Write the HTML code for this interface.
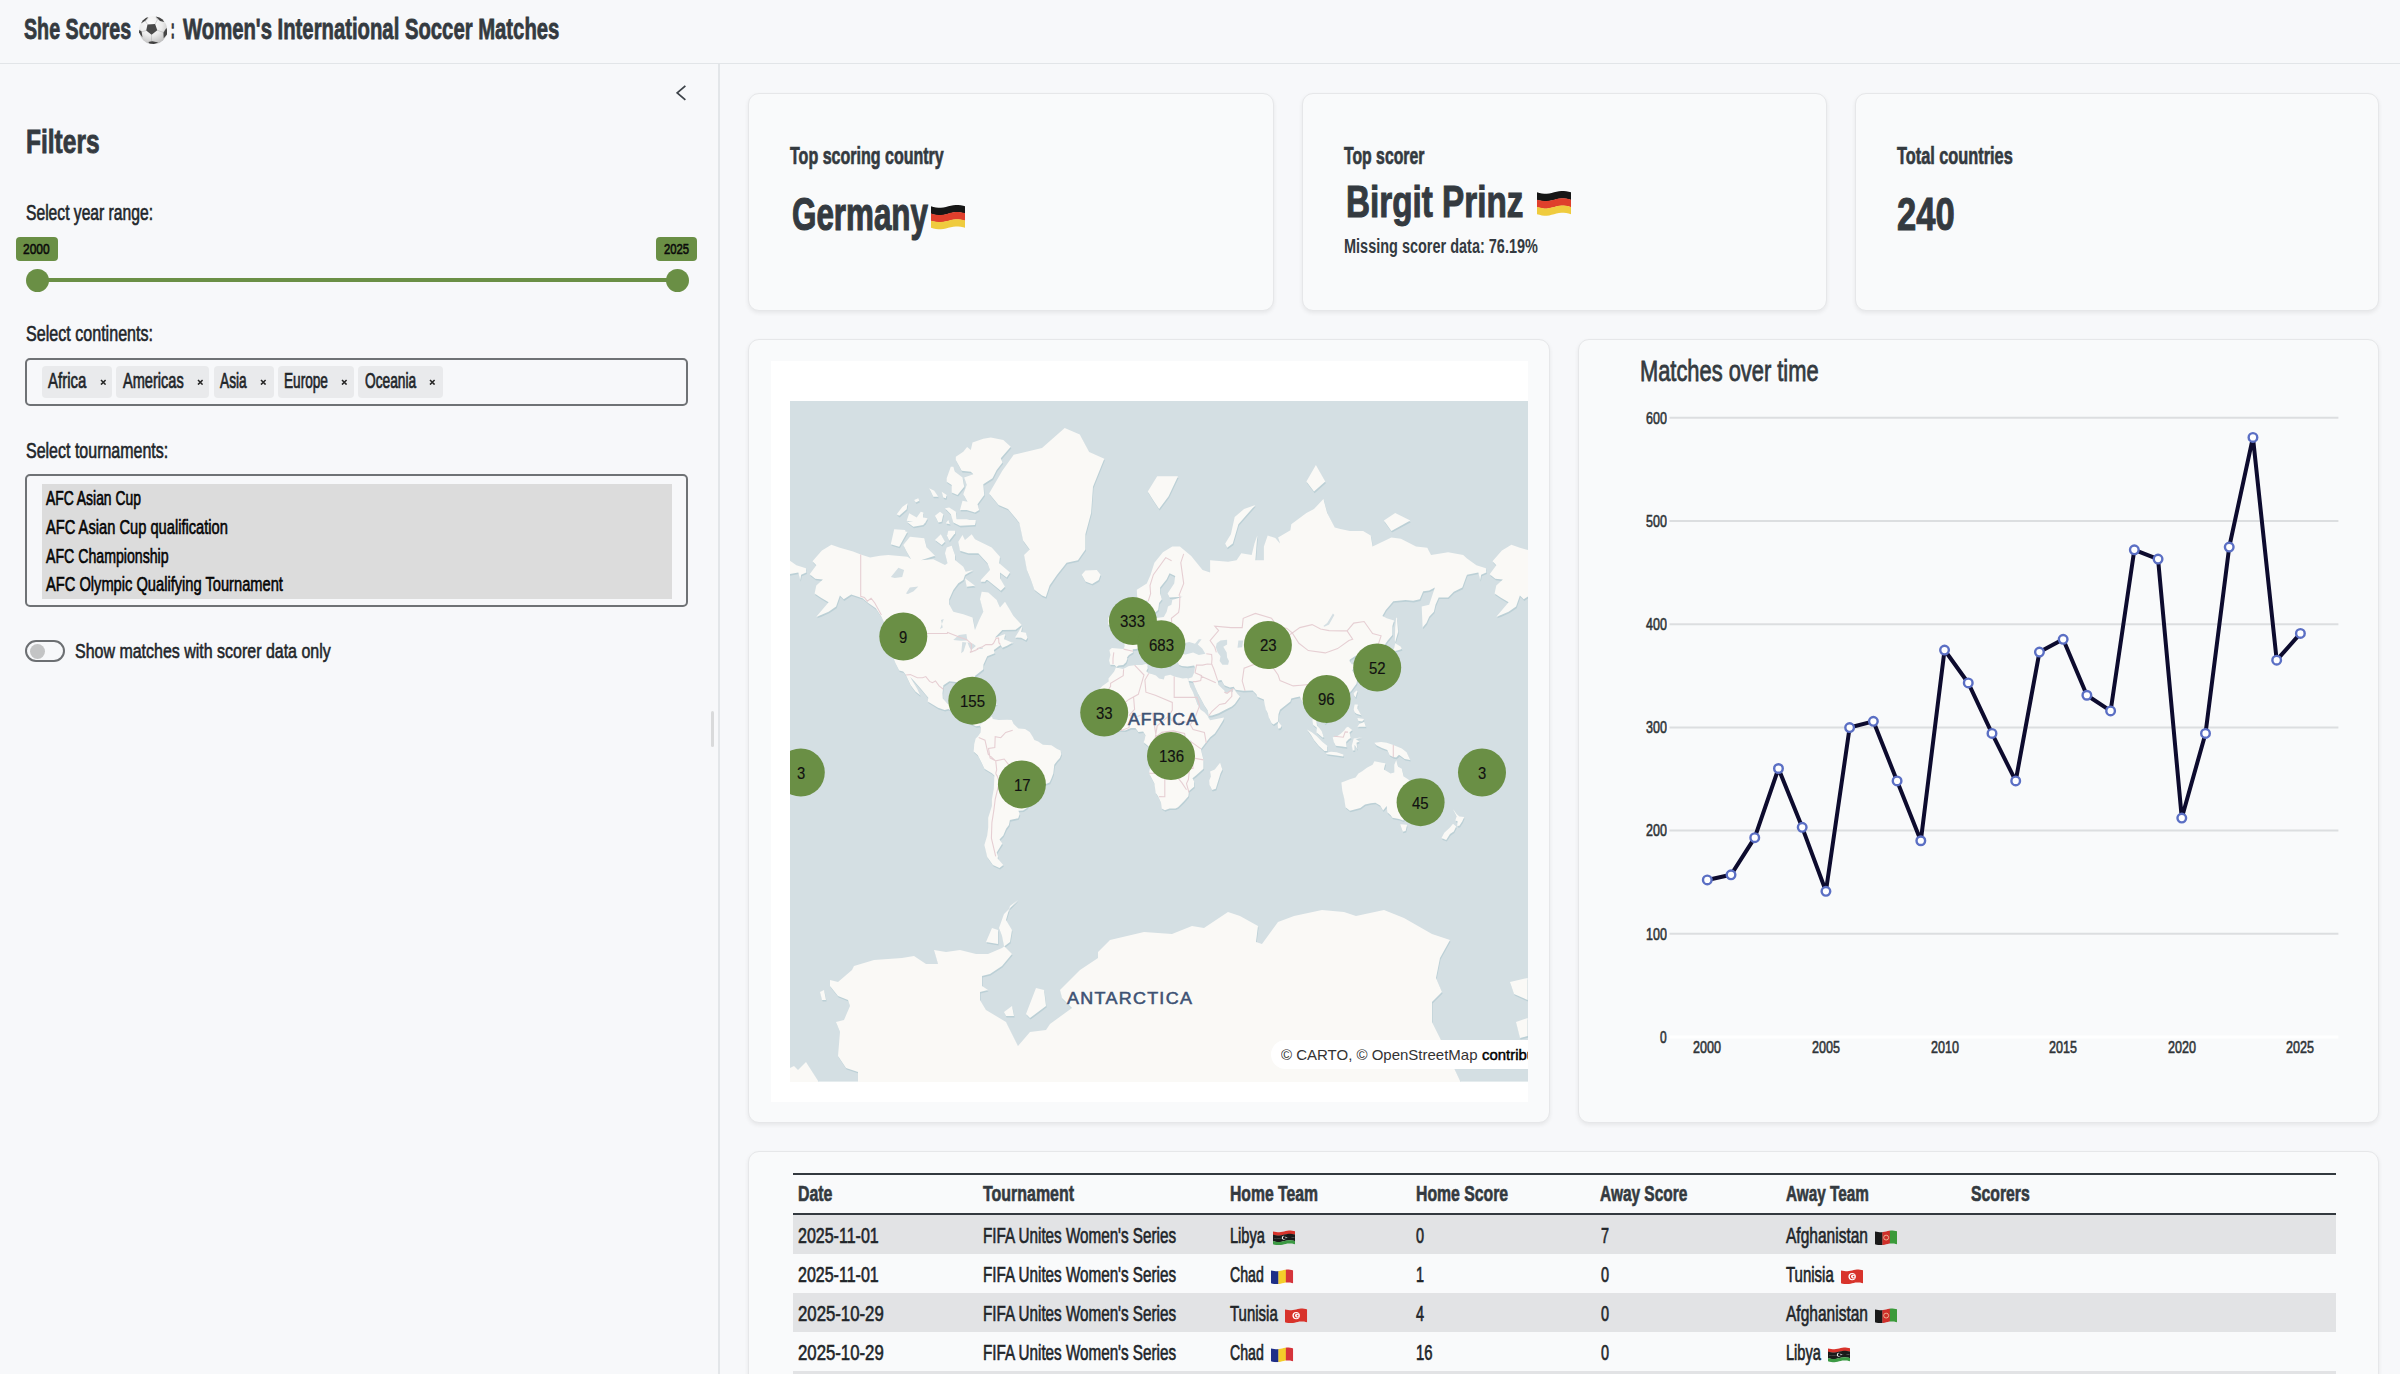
<!DOCTYPE html>
<html><head><meta charset="utf-8"><title>She Scores</title>
<style>
html,body{margin:0;padding:0}
body{width:2400px;height:1374px;overflow:hidden;position:relative;background:#f7f8fa;font-family:"Liberation Sans",sans-serif}
.t{position:absolute;white-space:nowrap;line-height:1;transform-origin:0 0}
svg{overflow:hidden}
</style></head><body>
<div style="position:absolute;left:0.00px;top:62.50px;width:2400.00px;height:1.50px;background:#e2e5e8"></div>
<div class="t " style="left:24.08px;top:14.55px;font-size:28.63px;font-weight:bold;color:#343a40;transform:scaleX(0.6871);-webkit-text-stroke:0.80px #343a40;">She Scores</div>
<svg style="position:absolute;left:138.70px;top:15.80px;width:28.40px;height:28.40px;" viewBox="0 0 100 100" preserveAspectRatio="none"><defs><radialGradient id="bg1" cx="42%" cy="30%" r="72%"><stop offset="0" stop-color="#ffffff"/><stop offset="0.55" stop-color="#ececec"/><stop offset="1" stop-color="#bdbdbd"/></radialGradient></defs><circle cx="50" cy="50" r="49.5" fill="url(#bg1)"/><g stroke="#a9a9a9" stroke-width="1.6" fill="none"><path d="M29.9,29.6 L22,17 M56.7,28.6 L65,13 M64.4,50 L86,58 M44.3,66.3 L44,90 M25.3,51 L9,56"/><path d="M22,17 L33,8 M65,13 L60,4 M86,58 L96,44 M44,90 L35,93 M9,56 L4,48"/></g><path d="M29.9,29.6 L56.7,28.6 L64.4,50 L44.3,66.3 L25.3,51 Z" fill="#4a4a4a"/><path d="M7,26 L14,15 L25,6.5 L33,4 L22,17 Z" fill="#454545"/><path d="M58.8,2 L72,5 L83,12 L89,21 L74,18 Z" fill="#454545"/><path d="M96.5,42 L100,51 L98,66 L87,78 L86,59 Z" fill="#454545"/><path d="M0.5,49 L9,55 L12.4,76 L5,66 L0,57 Z" fill="#454545"/><path d="M33,92 L47,88.5 L68,93 L52,98.5 L37,97 Z" fill="#3f3f3f"/></svg>
<div class="t " style="left:171.10px;top:15.11px;font-size:27.51px;font-weight:bold;color:#343a40;transform:scaleX(0.3820);-webkit-text-stroke:1.57px #343a40;">:</div>
<div class="t " style="left:183.28px;top:14.53px;font-size:28.66px;font-weight:bold;color:#343a40;transform:scaleX(0.7077);-webkit-text-stroke:0.78px #343a40;">Women&#x27;s International Soccer Matches</div>
<div style="position:absolute;left:718.20px;top:64.00px;width:1.60px;height:1310.00px;background:#e3e6e9"></div>
<div style="position:absolute;left:711.00px;top:710.60px;width:2.60px;height:36.40px;background:#d9dadb;border-radius:2px"></div>
<svg style="position:absolute;left:675.80px;top:85.40px;width:10.20px;height:15.70px;" viewBox="0 0 10 16" preserveAspectRatio="none"><polyline points="9.2,0.8 1.2,8 9.2,15.2" fill="none" stroke="#3d4349" stroke-width="1.7"/></svg>
<div class="t " style="left:26.11px;top:124.83px;font-size:33.63px;font-weight:bold;color:#343a40;transform:scaleX(0.7290);-webkit-text-stroke:0.86px #343a40;">Filters</div>
<div class="t " style="left:25.62px;top:201.57px;font-size:22.32px;font-weight:normal;color:#212529;transform:scaleX(0.7013);-webkit-text-stroke:0.64px #212529;">Select year range:</div>
<div style="position:absolute;left:37.00px;top:278.30px;width:640.00px;height:4.00px;background:#6a8f45"></div>
<div style="position:absolute;left:25.50px;top:268.80px;width:23px;height:23px;border-radius:50%;background:#6a8f45"></div>
<div style="position:absolute;left:665.50px;top:268.80px;width:23px;height:23px;border-radius:50%;background:#6a8f45"></div>
<div style="position:absolute;left:16.00px;top:236.90px;width:41.90px;height:24.35px;background:#6a8f45;border-radius:4px"></div>
<div style="position:absolute;left:656.00px;top:236.90px;width:41.00px;height:24.30px;background:#6a8f45;border-radius:4px"></div>
<div class="t " style="left:23.43px;top:240.88px;font-size:15.16px;font-weight:normal;color:#0b0b0b;transform:scaleX(0.7887);-webkit-text-stroke:0.57px #0b0b0b;">2000</div>
<div class="t " style="left:663.93px;top:240.90px;font-size:15.11px;font-weight:normal;color:#0b0b0b;transform:scaleX(0.7479);-webkit-text-stroke:0.60px #0b0b0b;">2025</div>
<div class="t " style="left:25.73px;top:323.26px;font-size:22.35px;font-weight:normal;color:#212529;transform:scaleX(0.7202);-webkit-text-stroke:0.62px #212529;">Select continents:</div>
<div style="position:absolute;left:25.20px;top:358.20px;width:663.30px;height:47.40px;border:2px solid #6f7275;border-radius:5px;box-sizing:border-box"></div>
<div style="position:absolute;left:41.50px;top:366.20px;width:70.50px;height:31.40px;background:#e9eaec;border-radius:4px"></div>
<div class="t " style="left:48.23px;top:369.83px;font-size:22.01px;font-weight:normal;color:#212529;transform:scaleX(0.6816);-webkit-text-stroke:0.66px #212529;">Africa</div>
<svg style="position:absolute;left:99.70px;top:378.90px;width:6.60px;height:6.60px;" viewBox="0 0 6.60 6.60" preserveAspectRatio="none"><path d="M1,1 L5.60,5.60 M5.60,1 L1,5.60" stroke="#262626" stroke-width="1.55" stroke-linecap="butt"/></svg>
<div style="position:absolute;left:116.20px;top:366.20px;width:93.30px;height:31.40px;background:#e9eaec;border-radius:4px"></div>
<div class="t " style="left:123.02px;top:369.84px;font-size:21.98px;font-weight:normal;color:#212529;transform:scaleX(0.6632);-webkit-text-stroke:0.68px #212529;">Americas</div>
<svg style="position:absolute;left:196.70px;top:378.90px;width:6.60px;height:6.60px;" viewBox="0 0 6.60 6.60" preserveAspectRatio="none"><path d="M1,1 L5.60,5.60 M5.60,1 L1,5.60" stroke="#262626" stroke-width="1.55" stroke-linecap="butt"/></svg>
<div style="position:absolute;left:213.90px;top:366.20px;width:59.80px;height:31.40px;background:#e9eaec;border-radius:4px"></div>
<div class="t " style="left:220.22px;top:369.88px;font-size:21.92px;font-weight:normal;color:#212529;transform:scaleX(0.6248);-webkit-text-stroke:0.72px #212529;">Asia</div>
<svg style="position:absolute;left:260.30px;top:378.90px;width:6.60px;height:6.60px;" viewBox="0 0 6.60 6.60" preserveAspectRatio="none"><path d="M1,1 L5.60,5.60 M5.60,1 L1,5.60" stroke="#262626" stroke-width="1.55" stroke-linecap="butt"/></svg>
<div style="position:absolute;left:277.80px;top:366.20px;width:76.00px;height:31.40px;background:#e9eaec;border-radius:4px"></div>
<div class="t " style="left:284.23px;top:369.88px;font-size:21.91px;font-weight:normal;color:#212529;transform:scaleX(0.6219);-webkit-text-stroke:0.72px #212529;">Europe</div>
<svg style="position:absolute;left:341.30px;top:378.90px;width:6.60px;height:6.60px;" viewBox="0 0 6.60 6.60" preserveAspectRatio="none"><path d="M1,1 L5.60,5.60 M5.60,1 L1,5.60" stroke="#262626" stroke-width="1.55" stroke-linecap="butt"/></svg>
<div style="position:absolute;left:358.20px;top:366.20px;width:84.50px;height:31.40px;background:#e9eaec;border-radius:4px"></div>
<div class="t " style="left:364.93px;top:369.87px;font-size:21.92px;font-weight:normal;color:#212529;transform:scaleX(0.6276);-webkit-text-stroke:0.72px #212529;">Oceania</div>
<svg style="position:absolute;left:429.30px;top:378.90px;width:6.60px;height:6.60px;" viewBox="0 0 6.60 6.60" preserveAspectRatio="none"><path d="M1,1 L5.60,5.60 M5.60,1 L1,5.60" stroke="#262626" stroke-width="1.55" stroke-linecap="butt"/></svg>
<div class="t " style="left:25.73px;top:439.76px;font-size:22.34px;font-weight:normal;color:#212529;transform:scaleX(0.7163);-webkit-text-stroke:0.63px #212529;">Select tournaments:</div>
<div style="position:absolute;left:25.20px;top:474.30px;width:663.30px;height:132.30px;border:2px solid #6f7275;border-radius:5px;box-sizing:border-box"></div>
<div style="position:absolute;left:42.10px;top:483.90px;width:630.40px;height:115.50px;background:#dcdcdc"></div>
<div class="t " style="left:45.62px;top:487.77px;font-size:20.54px;font-weight:normal;color:#050505;transform:scaleX(0.6761);-webkit-text-stroke:0.67px #050505;">AFC Asian Cup</div>
<div class="t " style="left:45.62px;top:516.84px;font-size:20.59px;font-weight:normal;color:#050505;transform:scaleX(0.7131);-webkit-text-stroke:0.63px #050505;">AFC Asian Cup qualification</div>
<div class="t " style="left:45.62px;top:545.66px;font-size:20.56px;font-weight:normal;color:#050505;transform:scaleX(0.6880);-webkit-text-stroke:0.65px #050505;">AFC Championship</div>
<div class="t " style="left:45.62px;top:574.44px;font-size:20.59px;font-weight:normal;color:#050505;transform:scaleX(0.7126);-webkit-text-stroke:0.63px #050505;">AFC Olympic Qualifying Tournament</div>
<div style="position:absolute;left:25.30px;top:640.10px;width:39.50px;height:22.30px;border:2px solid #6c6f72;border-radius:12px;box-sizing:border-box"></div>
<div style="position:absolute;left:29.50px;top:643.70px;width:15px;height:15px;border-radius:50%;background:#c3c4c5"></div>
<div class="t " style="left:75.32px;top:640.66px;font-size:20.95px;font-weight:normal;color:#212529;transform:scaleX(0.7631);-webkit-text-stroke:0.59px #212529;">Show matches with scorer data only</div>
<div style="position:absolute;left:748.00px;top:93.00px;width:525.50px;height:218.00px;background:#f9fafb;border:1.5px solid #e6e7e9;border-radius:11px;box-sizing:border-box;box-shadow:0 2px 4px rgba(0,0,0,0.07)"></div>
<div style="position:absolute;left:1302.00px;top:93.00px;width:525.00px;height:218.00px;background:#f9fafb;border:1.5px solid #e6e7e9;border-radius:11px;box-sizing:border-box;box-shadow:0 2px 4px rgba(0,0,0,0.07)"></div>
<div style="position:absolute;left:1855.00px;top:93.00px;width:524.00px;height:218.00px;background:#f9fafb;border:1.5px solid #e6e7e9;border-radius:11px;box-sizing:border-box;box-shadow:0 2px 4px rgba(0,0,0,0.07)"></div>
<div class="t " style="left:790.33px;top:144.82px;font-size:23.42px;font-weight:bold;color:#343a40;transform:scaleX(0.6847);-webkit-text-stroke:0.69px #343a40;">Top scoring country</div>
<div class="t " style="left:791.71px;top:192.34px;font-size:45.65px;font-weight:bold;color:#343a40;transform:scaleX(0.6871);-webkit-text-stroke:1.19px #343a40;">Germany</div>
<svg style="position:absolute;left:930.80px;top:203.60px;width:34.70px;height:26.40px;" viewBox="0 0 36 26" preserveAspectRatio="none"><polygon points="0.00,2.30 2.57,2.93 5.14,3.43 7.71,3.71 10.29,3.71 12.86,3.43 15.43,2.93 18.00,2.30 20.57,1.67 23.14,1.17 25.71,0.89 28.29,0.89 30.86,1.17 33.43,1.67 36.00,2.30 36.00,9.62 33.43,8.99 30.86,8.48 28.29,8.20 25.71,8.20 23.14,8.48 20.57,8.99 18.00,9.62 15.43,10.25 12.86,10.75 10.29,11.03 7.71,11.03 5.14,10.75 2.57,10.25 0.00,9.62" fill="#161616"/><polygon points="0.00,9.37 2.57,10.00 5.14,10.50 7.71,10.78 10.29,10.78 12.86,10.50 15.43,10.00 18.00,9.37 20.57,8.74 23.14,8.23 25.71,7.95 28.29,7.95 30.86,8.23 33.43,8.74 36.00,9.37 36.00,16.68 33.43,16.05 30.86,15.55 28.29,15.27 25.71,15.27 23.14,15.55 20.57,16.05 18.00,16.68 15.43,17.31 12.86,17.82 10.29,18.10 7.71,18.10 5.14,17.82 2.57,17.31 0.00,16.68" fill="#df3f2c"/><polygon points="0.00,16.43 2.57,17.06 5.14,17.57 7.71,17.85 10.29,17.85 12.86,17.57 15.43,17.06 18.00,16.43 20.57,15.80 23.14,15.30 25.71,15.02 28.29,15.02 30.86,15.30 33.43,15.80 36.00,16.43 36.00,23.50 33.43,22.87 30.86,22.37 28.29,22.09 25.71,22.09 23.14,22.37 20.57,22.87 18.00,23.50 15.43,24.13 12.86,24.63 10.29,24.91 7.71,24.91 5.14,24.63 2.57,24.13 0.00,23.50" fill="#efcb3e"/></svg>
<div class="t " style="left:1343.73px;top:144.53px;font-size:23.41px;font-weight:bold;color:#343a40;transform:scaleX(0.6738);-webkit-text-stroke:0.70px #343a40;">Top scorer</div>
<div class="t " style="left:1345.60px;top:179.70px;font-size:44.93px;font-weight:bold;color:#343a40;transform:scaleX(0.7402);-webkit-text-stroke:1.09px #343a40;">Birgit Prinz</div>
<svg style="position:absolute;left:1536.90px;top:190.00px;width:34.10px;height:26.80px;" viewBox="0 0 36 26" preserveAspectRatio="none"><polygon points="0.00,2.30 2.57,2.93 5.14,3.43 7.71,3.71 10.29,3.71 12.86,3.43 15.43,2.93 18.00,2.30 20.57,1.67 23.14,1.17 25.71,0.89 28.29,0.89 30.86,1.17 33.43,1.67 36.00,2.30 36.00,9.62 33.43,8.99 30.86,8.48 28.29,8.20 25.71,8.20 23.14,8.48 20.57,8.99 18.00,9.62 15.43,10.25 12.86,10.75 10.29,11.03 7.71,11.03 5.14,10.75 2.57,10.25 0.00,9.62" fill="#161616"/><polygon points="0.00,9.37 2.57,10.00 5.14,10.50 7.71,10.78 10.29,10.78 12.86,10.50 15.43,10.00 18.00,9.37 20.57,8.74 23.14,8.23 25.71,7.95 28.29,7.95 30.86,8.23 33.43,8.74 36.00,9.37 36.00,16.68 33.43,16.05 30.86,15.55 28.29,15.27 25.71,15.27 23.14,15.55 20.57,16.05 18.00,16.68 15.43,17.31 12.86,17.82 10.29,18.10 7.71,18.10 5.14,17.82 2.57,17.31 0.00,16.68" fill="#df3f2c"/><polygon points="0.00,16.43 2.57,17.06 5.14,17.57 7.71,17.85 10.29,17.85 12.86,17.57 15.43,17.06 18.00,16.43 20.57,15.80 23.14,15.30 25.71,15.02 28.29,15.02 30.86,15.30 33.43,15.80 36.00,16.43 36.00,23.50 33.43,22.87 30.86,22.37 28.29,22.09 25.71,22.09 23.14,22.37 20.57,22.87 18.00,23.50 15.43,24.13 12.86,24.63 10.29,24.91 7.71,24.91 5.14,24.63 2.57,24.13 0.00,23.50" fill="#efcb3e"/></svg>
<div class="t " style="left:1344.30px;top:236.67px;font-size:19.55px;font-weight:bold;color:#343a40;transform:scaleX(0.7412);-webkit-text-stroke:0.55px #343a40;-webkit-text-stroke:0px">Missing scorer data: 76.19%</div>
<div class="t " style="left:1896.83px;top:144.71px;font-size:23.44px;font-weight:bold;color:#343a40;transform:scaleX(0.6961);-webkit-text-stroke:0.67px #343a40;">Total countries</div>
<div class="t " style="left:1897.41px;top:192.36px;font-size:45.81px;font-weight:bold;color:#343a40;transform:scaleX(0.7549);-webkit-text-stroke:1.08px #343a40;">240</div>
<div style="position:absolute;left:748.00px;top:338.80px;width:801.80px;height:784.20px;background:#f9fafb;border:1.5px solid #e6e7e9;border-radius:11px;box-sizing:border-box;box-shadow:0 2px 4px rgba(0,0,0,0.07)"></div>
<div style="position:absolute;left:770.80px;top:360.80px;width:757.20px;height:740.80px;background:#ffffff"></div>
<svg style="position:absolute;left:790.00px;top:401.00px;width:738.00px;height:680.60px" viewBox="790.00 401.00 738.00 680.60"><rect x="790.00" y="401.00" width="738.00" height="680.60" fill="#d4dfe3"/><path d="M809.7,574.3 816.3,565.2 812.5,561.2 821.9,550.5 831.4,544.8 839.9,547.7 853.1,551.6 860.7,554.4 870.1,557.6 880.0,555.8 888.3,555.0 907.5,556.7 913.3,560.8 933.3,559.2 945.0,565.0 947.5,563.3 945.0,553.3 946.7,547.5 951.7,545.8 955.0,555.0 955.0,560.0 963.3,566.7 965.8,571.7 973.3,570.0 965.0,575.0 963.3,580.0 958.3,583.3 953.3,590.0 949.2,599.2 949.2,604.2 953.3,611.7 963.3,614.2 972.5,617.5 975.0,630.0 979.2,620.0 983.3,611.7 980.0,599.2 981.7,591.7 988.3,592.5 996.7,600.0 1000.0,607.5 1005.0,601.7 1010.0,610.0 1013.3,615.8 1021.7,625.0 1015.6,629.7 1002.3,630.0 994.8,637.8 1005.2,634.1 1004.2,639.2 1011.8,642.5 1013.7,641.9 1007.1,645.7 1002.3,647.8 1000.6,645.1 993.8,649.9 994.8,653.2 987.2,656.2 983.4,664.7 983.4,669.3 974.9,676.1 974.0,681.6 975.9,688.1 974.9,690.8 972.1,688.1 970.6,684.9 968.3,680.6 960.8,679.9 957.9,682.3 949.4,681.2 943.4,685.3 942.5,693.3 942.8,698.4 947.6,704.0 954.2,704.4 956.1,699.4 962.7,698.4 960.8,705.0 959.8,709.4 968.3,709.8 969.7,711.7 968.9,719.1 972.5,722.9 976.8,722.0 980.6,723.9 979.7,725.8 975.9,726.2 972.1,724.5 965.1,721.0 961.7,715.2 954.2,713.3 948.5,709.0 944.7,710.0 938.1,707.8 927.7,701.4 928.3,697.8 925.8,694.7 920.2,688.1 914.5,681.6 910.2,677.0 913.6,682.7 917.3,689.1 920.2,695.3 915.4,691.6 910.7,685.3 906.9,677.3 905.6,674.6 903.2,671.4 899.2,670.5 895.6,663.5 892.8,656.7 891.8,649.9 892.8,641.4 891.5,635.2 894.7,633.5 887.1,629.1 881.4,616.7 875.8,608.3 868.2,603.0 862.6,598.2 851.2,594.4 843.7,599.3 839.9,595.6 836.1,606.6 828.6,611.7 821.0,615.1 816.3,616.7 828.6,602.3 821.0,597.8 814.6,593.6 816.3,585.6 822.9,579.6 815.3,578.7ZM1489.7,574.3 1496.3,565.2 1492.5,561.2 1501.9,550.5 1511.4,544.8 1519.9,547.7 1533.1,551.6 1540.7,554.4 1550.1,557.6 1560.0,555.8 1568.3,555.0 1587.5,556.7 1593.3,560.8 1613.3,559.2 1625.0,565.0 1627.5,563.3 1625.0,553.3 1626.7,547.5 1631.7,545.8 1635.0,555.0 1635.0,560.0 1643.3,566.7 1645.8,571.7 1653.3,570.0 1645.0,575.0 1643.3,580.0 1638.3,583.3 1633.3,590.0 1629.2,599.2 1629.2,604.2 1633.3,611.7 1643.3,614.2 1652.5,617.5 1655.0,630.0 1659.2,620.0 1663.3,611.7 1660.0,599.2 1661.7,591.7 1668.3,592.5 1676.7,600.0 1680.0,607.5 1685.0,601.7 1690.0,610.0 1693.3,615.8 1701.7,625.0 1695.6,629.7 1682.3,630.0 1674.8,637.8 1685.2,634.1 1684.2,639.2 1691.8,642.5 1693.7,641.9 1687.1,645.7 1682.3,647.8 1680.6,645.1 1673.8,649.9 1674.8,653.2 1667.2,656.2 1663.4,664.7 1663.4,669.3 1654.9,676.1 1654.0,681.6 1655.9,688.1 1654.9,690.8 1652.1,688.1 1650.6,684.9 1648.3,680.6 1640.8,679.9 1637.9,682.3 1629.4,681.2 1623.4,685.3 1622.5,693.3 1622.8,698.4 1627.6,704.0 1634.2,704.4 1636.1,699.4 1642.7,698.4 1640.8,705.0 1639.8,709.4 1648.3,709.8 1649.7,711.7 1648.9,719.1 1652.5,722.9 1656.8,722.0 1660.6,723.9 1659.7,725.8 1655.9,726.2 1652.1,724.5 1645.1,721.0 1641.7,715.2 1634.2,713.3 1628.5,709.0 1624.7,710.0 1618.1,707.8 1607.7,701.4 1608.3,697.8 1605.8,694.7 1600.2,688.1 1594.5,681.6 1590.2,677.0 1593.6,682.7 1597.3,689.1 1600.2,695.3 1595.4,691.6 1590.7,685.3 1586.9,677.3 1585.6,674.6 1583.2,671.4 1579.2,670.5 1575.6,663.5 1572.8,656.7 1571.8,649.9 1572.8,641.4 1571.5,635.2 1574.7,633.5 1567.1,629.1 1561.4,616.7 1555.8,608.3 1548.2,603.0 1542.6,598.2 1531.2,594.4 1523.7,599.3 1519.9,595.6 1516.1,606.6 1508.6,611.7 1501.0,615.1 1496.3,616.7 1508.6,602.3 1501.0,597.8 1494.6,593.6 1496.3,585.6 1502.9,579.6 1495.3,578.7ZM989.1,493.4 1002.3,470.8 1013.7,454.8 1042.0,447.9 1064.7,427.9 1079.8,434.4 1089.2,452.1 1104.3,458.7 1093.0,486.7 1091.1,513.0 1085.4,534.3 1085.4,549.4 1077.9,560.2 1066.6,562.7 1057.1,574.7 1049.6,585.6 1045.8,597.1 1042.0,595.6 1034.4,589.7 1030.7,579.2 1026.9,570.1 1024.1,554.9 1029.7,549.4 1023.1,540.6 1019.3,522.7 1008.0,509.0 998.6,504.9ZM1015.0,637.5 1022.2,625.8 1021.2,632.1 1025.9,632.7 1027.5,637.8 1025.9,640.3 1021.2,637.8ZM966.4,697.8 972.1,694.9 979.7,696.4 986.8,701.0 980.2,701.6 974.9,698.4ZM986.3,704.4 990.1,701.6 997.6,704.2 992.9,705.4 986.5,705.2ZM981.0,723.7 983.4,722.0 984.4,719.5 989.1,718.5 991.9,716.4 992.9,719.1 998.6,720.1 1007.1,719.7 1011.8,720.1 1013.7,723.9 1018.4,728.6 1025.0,729.0 1029.7,732.1 1032.6,736.6 1034.4,740.0 1038.2,741.5 1042.9,744.7 1051.4,745.3 1057.1,749.1 1060.5,750.4 1061.3,754.2 1059.9,758.0 1057.1,760.9 1054.3,764.8 1053.3,773.6 1051.4,778.6 1049.6,782.6 1043.9,784.7 1036.3,790.9 1035.4,796.2 1031.6,801.6 1026.9,807.9 1023.1,810.4 1018.4,810.7 1019.7,814.1 1018.2,818.2 1009.9,820.1 1008.9,825.1 1006.1,828.8 1003.3,835.4 999.5,839.4 1002.3,843.6 996.7,852.4 998.0,856.3 997.6,858.5 1003.3,864.9 999.5,867.9 992.9,864.9 987.2,856.9 984.4,845.0 987.2,835.4 988.2,827.6 988.2,817.7 991.9,806.1 991.9,799.4 993.8,788.8 994.4,775.6 991.9,773.2 984.4,768.7 981.6,762.8 977.8,755.2 973.6,751.4 974.0,748.1 974.2,744.2 975.7,738.5 977.8,736.6 980.6,732.4 981.0,727.7 980.0,725.8ZM1094.7,711.9 1095.3,716.2 1098.7,719.1 1101.9,722.9 1106.2,726.9 1112.8,731.7 1119.4,730.2 1125.1,730.5 1130.8,728.1 1135.5,728.1 1138.3,731.9 1143.1,731.5 1145.5,735.3 1144.6,740.0 1143.6,742.3 1148.7,746.6 1149.7,749.5 1150.2,752.3 1151.9,757.1 1153.1,760.9 1150.6,765.7 1149.3,771.6 1149.7,774.6 1154.4,783.6 1155.7,793.0 1158.2,796.4 1161.0,802.7 1161.8,808.4 1164.8,810.2 1169.5,808.4 1175.4,808.4 1178.0,807.2 1183.7,801.6 1188.4,796.2 1189.0,790.9 1194.1,786.7 1194.1,781.6 1192.5,778.2 1195.9,775.6 1203.5,768.7 1203.5,759.9 1201.6,752.3 1201.0,748.9 1205.4,743.2 1210.1,737.2 1214.8,733.4 1218.6,727.7 1223.3,720.1 1223.9,717.6 1217.7,718.7 1210.1,720.2 1208.6,718.1 1207.7,716.0 1204.4,712.3 1200.7,709.8 1197.5,704.4 1195.0,697.4 1193.1,692.2 1190.3,687.0 1188.4,680.8 1187.4,677.9 1182.7,678.6 1174.2,676.6 1170.4,674.8 1164.8,675.9 1163.8,679.5 1159.1,678.4 1155.9,675.5 1151.6,674.1 1148.7,673.5 1146.3,671.2 1147.8,668.2 1147.4,664.4 1145.5,664.0 1142.1,664.9 1136.4,665.1 1128.9,665.9 1123.2,669.1 1115.9,667.5 1114.2,671.6 1108.5,678.4 1108.7,681.6 1102.4,685.9 1099.6,689.1 1095.8,694.3 1094.9,699.4 1096.8,703.4 1095.8,708.4ZM1220.1,762.8 1222.4,769.6 1220.5,773.6 1217.7,782.6 1215.8,788.8 1212.0,790.0 1209.5,784.7 1209.2,780.6 1210.9,776.6 1210.1,771.6 1214.8,769.6 1217.7,765.7ZM508.4,680.8 512.9,681.6 515.0,687.0 517.8,693.3 520.7,698.4 524.4,705.4 527.7,710.4 528.8,715.8 532.0,715.6 538.6,713.3 545.2,709.8 551.8,706.4 554.7,704.0 560.0,696.4 557.5,694.1 553.5,688.5 552.8,692.2 550.9,691.2 545.2,693.3 544.3,690.6 542.4,688.7 538.6,684.9 537.7,680.8 541.4,680.1 544.3,685.3 549.9,687.4 553.7,686.8 555.6,689.7 563.2,690.8 572.6,690.4 576.4,694.3 577.3,696.8 583.9,699.4 584.5,703.4 585.8,709.4 587.7,713.3 588.7,717.2 591.5,722.9 593.4,724.6 598.1,721.4 598.5,714.3 600.0,709.8 602.8,707.4 610.4,701.4 611.3,698.4 615.1,697.4 619.8,696.4 621.3,700.0 625.5,706.4 625.1,709.4 631.2,708.4 633.1,714.3 632.5,721.0 633.1,724.8 636.8,727.7 636.5,732.4 642.5,737.5 643.8,737.2 641.9,731.5 639.7,728.5 637.0,725.8 635.9,716.2 636.8,714.3 639.7,716.2 641.6,719.1 645.0,723.7 648.2,720.4 652.9,718.1 653.5,714.3 651.9,710.4 648.2,705.8 646.8,703.4 648.2,700.4 651.0,698.4 654.8,699.4 655.2,701.0 656.7,698.4 661.4,697.0 667.1,695.3 671.8,690.2 673.7,687.4 676.5,683.8 677.4,678.8 675.2,675.0 672.2,670.5 674.6,666.6 678.4,664.7 671.8,664.2 669.5,661.1 669.9,659.4 676.5,655.2 675.9,659.9 678.4,656.2 682.2,657.9 684.1,662.8 685.9,670.7 691.2,668.9 691.6,664.7 688.8,660.9 692.2,654.9 693.7,651.4 698.2,650.4 702.9,647.5 707.7,640.6 712.4,635.0 712.4,626.1 714.1,620.6 706.7,618.3 702.4,616.1 705.8,610.0 713.3,601.2 725.6,600.1 733.2,600.8 739.8,599.3 743.2,591.3 749.2,590.5 754.9,587.6 749.2,604.8 741.7,606.6 742.6,627.6 746.4,623.1 749.2,616.7 753.9,611.7 755.5,604.8 758.7,597.5 768.1,597.5 773.8,591.7 782.3,587.6 786.1,577.0 787.0,574.7 798.3,572.4 800.2,580.1 801.2,574.7 806.3,572.4 805.9,568.2 796.4,565.2 787.0,558.6 783.2,554.9 768.1,552.2 751.1,554.9 747.3,547.7 736.0,546.5 720.9,538.7 711.4,537.5 692.6,546.5 690.7,535.6 683.1,531.0 669.9,531.0 660.4,529.0 654.8,527.6 647.2,513.0 643.4,498.9 634.0,509.0 626.4,513.0 611.3,524.2 610.4,530.3 598.1,537.5 600.0,543.6 595.3,538.1 587.7,535.6 583.9,546.5 583.9,560.2 575.4,560.2 577.3,535.6 574.5,543.6 571.7,554.9 561.3,553.3 556.6,560.2 548.1,561.7 530.1,560.2 530.1,572.4 522.6,570.1 511.2,556.0 499.9,546.5 492.3,546.5 482.9,552.2 474.4,562.7 470.6,574.7 466.8,583.5 456.8,589.7 457.4,601.2 460.2,604.8 462.5,604.5 466.8,600.5 469.7,604.8 471.2,613.4 474.0,613.4 478.2,610.0 479.1,603.0 481.9,599.3 480.1,593.6 480.1,587.6 486.7,579.2 489.5,573.3 495.2,576.1 494.2,583.5 487.6,593.6 489.5,597.5 502.7,596.7 492.3,600.1 491.4,604.8 488.0,606.6 486.7,611.7 483.8,617.0 474.4,618.3 467.8,618.3 467.4,611.7 466.8,605.9 462.5,608.3 463.1,615.1 463.6,618.7 460.2,619.9 456.1,621.5 453.6,626.1 449.8,627.6 444.2,631.5 437.9,635.2 443.2,639.2 444.7,645.9 443.6,649.1 431.9,648.0 429.4,649.9 430.4,654.9 429.1,660.6 430.2,664.7 434.7,664.9 436.4,667.0 438.5,665.4 443.2,665.1 446.1,662.3 447.4,658.7 447.0,657.4 448.9,654.9 453.0,652.4 452.7,649.3 456.1,649.1 461.2,647.8 463.6,646.2 466.5,648.6 468.7,651.7 473.1,654.9 476.8,657.4 477.2,662.3 479.5,659.9 479.1,656.2 481.9,656.9 477.2,653.7 473.4,650.9 470.2,645.7 472.5,642.7 473.4,645.1 479.1,649.9 483.8,652.9 483.6,656.7 486.7,661.1 487.6,665.1 490.4,665.9 492.3,662.3 490.1,656.2 492.3,655.7 497.1,655.4 496.5,657.4 497.1,659.9 498.9,664.7 501.8,665.9 507.4,666.6 514.1,665.6 515.0,667.5 514.1,672.8 512.2,677.3 508.4,678.4ZM1188.4,680.8 1192.9,681.6 1195.0,687.0 1197.8,693.3 1200.7,698.4 1204.4,705.4 1207.7,710.4 1208.8,715.8 1212.0,715.6 1218.6,713.3 1225.2,709.8 1231.8,706.4 1234.7,704.0 1240.0,696.4 1237.5,694.1 1233.5,688.5 1232.8,692.2 1230.9,691.2 1225.2,693.3 1224.3,690.6 1222.4,688.7 1218.6,684.9 1217.7,680.8 1221.4,680.1 1224.3,685.3 1229.9,687.4 1233.7,686.8 1235.6,689.7 1243.2,690.8 1252.6,690.4 1256.4,694.3 1257.3,696.8 1263.9,699.4 1264.5,703.4 1265.8,709.4 1267.7,713.3 1268.7,717.2 1271.5,722.9 1273.4,724.6 1278.1,721.4 1278.5,714.3 1280.0,709.8 1282.8,707.4 1290.4,701.4 1291.3,698.4 1295.1,697.4 1299.8,696.4 1301.3,700.0 1305.5,706.4 1305.1,709.4 1311.2,708.4 1313.1,714.3 1312.5,721.0 1313.1,724.8 1316.8,727.7 1316.5,732.4 1322.5,737.5 1323.8,737.2 1321.9,731.5 1319.7,728.5 1317.0,725.8 1315.9,716.2 1316.8,714.3 1319.7,716.2 1321.6,719.1 1325.0,723.7 1328.2,720.4 1332.9,718.1 1333.5,714.3 1331.9,710.4 1328.2,705.8 1326.8,703.4 1328.2,700.4 1331.0,698.4 1334.8,699.4 1335.2,701.0 1336.7,698.4 1341.4,697.0 1347.1,695.3 1351.8,690.2 1353.7,687.4 1356.5,683.8 1357.4,678.8 1355.2,675.0 1352.2,670.5 1354.6,666.6 1358.4,664.7 1351.8,664.2 1349.5,661.1 1349.9,659.4 1356.5,655.2 1355.9,659.9 1358.4,656.2 1362.2,657.9 1364.1,662.8 1365.9,670.7 1371.2,668.9 1371.6,664.7 1368.8,660.9 1372.2,654.9 1373.7,651.4 1378.2,650.4 1382.9,647.5 1387.7,640.6 1392.4,635.0 1392.4,626.1 1394.1,620.6 1386.7,618.3 1382.4,616.1 1385.8,610.0 1393.3,601.2 1405.6,600.1 1413.2,600.8 1419.8,599.3 1423.2,591.3 1429.2,590.5 1434.9,587.6 1429.2,604.8 1421.7,606.6 1422.6,627.6 1426.4,623.1 1429.2,616.7 1433.9,611.7 1435.5,604.8 1438.7,597.5 1448.1,597.5 1453.8,591.7 1462.3,587.6 1466.1,577.0 1467.0,574.7 1478.3,572.4 1480.2,580.1 1481.2,574.7 1486.3,572.4 1485.9,568.2 1476.4,565.2 1467.0,558.6 1463.2,554.9 1448.1,552.2 1431.1,554.9 1427.3,547.7 1416.0,546.5 1400.9,538.7 1391.4,537.5 1372.6,546.5 1370.7,535.6 1363.1,531.0 1349.9,531.0 1340.4,529.0 1334.8,527.6 1327.2,513.0 1323.4,498.9 1314.0,509.0 1306.4,513.0 1291.3,524.2 1290.4,530.3 1278.1,537.5 1280.0,543.6 1275.3,538.1 1267.7,535.6 1263.9,546.5 1263.9,560.2 1255.4,560.2 1257.3,535.6 1254.5,543.6 1251.7,554.9 1241.3,553.3 1236.6,560.2 1228.1,561.7 1210.1,560.2 1210.1,572.4 1202.6,570.1 1191.2,556.0 1179.9,546.5 1172.3,546.5 1162.9,552.2 1154.4,562.7 1150.6,574.7 1146.8,583.5 1136.8,589.7 1137.4,601.2 1140.2,604.8 1142.5,604.5 1146.8,600.5 1149.7,604.8 1151.2,613.4 1154.0,613.4 1158.2,610.0 1159.1,603.0 1161.9,599.3 1160.1,593.6 1160.1,587.6 1166.7,579.2 1169.5,573.3 1175.2,576.1 1174.2,583.5 1167.6,593.6 1169.5,597.5 1182.7,596.7 1172.3,600.1 1171.4,604.8 1168.0,606.6 1166.7,611.7 1163.8,617.0 1154.4,618.3 1147.8,618.3 1147.4,611.7 1146.8,605.9 1142.5,608.3 1143.1,615.1 1143.6,618.7 1140.2,619.9 1136.1,621.5 1133.6,626.1 1129.8,627.6 1124.2,631.5 1117.9,635.2 1123.2,639.2 1124.7,645.9 1123.6,649.1 1111.9,648.0 1109.4,649.9 1110.4,654.9 1109.1,660.6 1110.2,664.7 1114.7,664.9 1116.4,667.0 1118.5,665.4 1123.2,665.1 1126.1,662.3 1127.4,658.7 1127.0,657.4 1128.9,654.9 1133.0,652.4 1132.7,649.3 1136.1,649.1 1141.2,647.8 1143.6,646.2 1146.5,648.6 1148.7,651.7 1153.1,654.9 1156.8,657.4 1157.2,662.3 1159.5,659.9 1159.1,656.2 1161.9,656.9 1157.2,653.7 1153.4,650.9 1150.2,645.7 1152.5,642.7 1153.4,645.1 1159.1,649.9 1163.8,652.9 1163.6,656.7 1166.7,661.1 1167.6,665.1 1170.4,665.9 1172.3,662.3 1170.1,656.2 1172.3,655.7 1177.1,655.4 1176.5,657.4 1177.1,659.9 1178.9,664.7 1181.8,665.9 1187.4,666.6 1194.1,665.6 1195.0,667.5 1194.1,672.8 1192.2,677.3 1188.4,678.4ZM1116.2,630.6 1129.6,627.0 1130.2,622.4 1127.4,619.9 1124.2,613.4 1123.2,606.2 1120.4,602.7 1117.6,602.7 1115.7,608.3 1116.6,613.4 1117.9,615.7 1121.3,619.9 1118.5,622.1 1117.2,625.5 1121.3,626.1ZM1115.7,624.0 1115.3,619.9 1116.6,616.7 1112.8,614.1 1108.1,617.7 1108.1,624.6 1111.9,626.1ZM1085.4,581.4 1081.7,574.7 1085.4,570.5 1096.8,570.1 1100.6,574.7 1098.7,580.1 1092.1,583.9ZM1147.8,491.6 1157.2,476.3 1178.0,476.3 1168.6,496.2 1159.1,509.0 1153.4,500.6ZM1225.2,543.6 1230.9,534.3 1234.7,516.9 1244.1,509.0 1255.4,504.9 1238.4,524.2 1232.8,543.6 1227.1,547.7ZM1306.4,481.6 1315.9,464.9 1325.3,481.6 1314.0,491.6ZM1383.9,520.6 1395.2,513.0 1410.3,520.6 1391.4,531.0ZM1395.2,641.9 1398.1,632.1 1397.1,618.3 1396.2,617.4 1395.2,627.6 1394.8,640.6ZM1374.3,671.6 1378.2,670.5 1382.0,670.5 1385.4,670.5 1388.6,670.0 1391.4,669.3 1393.0,667.0 1393.3,661.6 1395.2,658.7 1394.3,653.9 1391.4,656.2 1391.1,661.1 1385.8,664.7 1383.9,667.7 1378.2,668.2 1374.4,670.5ZM1391.4,653.7 1394.3,651.2 1399.0,649.9 1401.8,649.1 1400.9,646.7 1395.2,643.3 1394.3,647.8ZM1372.6,675.0 1375.4,677.7 1376.3,672.8 1372.6,672.1ZM1354.0,695.3 1355.6,697.6 1357.4,691.2 1356.5,690.6 1353.7,693.3ZM1332.1,703.4 1334.8,701.4 1336.7,702.2 1333.8,705.0ZM1353.7,709.4 1354.6,704.4 1357.8,704.4 1357.4,708.4 1361.2,715.2 1356.5,713.7 1354.6,712.3ZM1357.4,726.7 1365.9,726.7 1364.1,722.0 1359.3,723.9ZM1357.4,718.1 1364.1,719.1 1362.2,721.4 1358.4,721.0ZM1332.7,737.2 1333.8,741.9 1335.7,745.7 1342.3,746.6 1346.7,747.2 1346.1,741.9 1348.9,739.1 1350.8,738.1 1349.5,732.4 1352.2,730.0 1348.0,726.7 1346.1,727.7 1344.2,730.5 1340.4,734.0 1336.7,736.6ZM1307.0,729.4 1312.1,732.4 1316.8,736.2 1322.5,741.9 1327.2,745.7 1327.2,751.0 1324.4,751.0 1318.7,745.7 1314.0,740.0 1311.2,735.3ZM1325.7,752.9 1331.0,751.7 1336.7,752.3 1343.3,754.6 1343.3,756.5 1336.7,755.5 1327.2,754.2ZM1352.7,750.4 1351.8,745.7 1353.7,738.5 1362.2,737.2 1355.6,739.1 1359.3,741.5 1356.5,742.8 1357.4,749.5 1354.6,744.7 1354.6,750.4ZM1374.4,742.8 1381.1,741.9 1386.7,742.8 1393.3,744.9 1401.8,748.5 1406.6,752.3 1410.3,759.9 1404.7,759.0 1399.0,754.8 1396.2,757.6 1393.3,757.1 1389.6,755.2 1387.3,750.0 1382.0,748.1 1376.3,745.3ZM1341.4,782.6 1342.3,790.9 1344.2,798.4 1345.5,807.2 1349.9,810.7 1360.3,807.9 1365.0,804.5 1370.7,803.2 1375.4,802.7 1380.1,805.6 1383.1,810.4 1386.7,806.1 1387.3,812.3 1390.7,815.3 1392.4,817.7 1399.0,818.9 1403.3,820.4 1406.6,817.2 1410.3,816.5 1412.6,808.1 1416.0,801.6 1417.1,795.6 1416.0,788.8 1411.8,783.6 1408.4,779.6 1403.7,776.6 1401.8,768.7 1398.1,766.7 1396.2,760.3 1394.3,764.8 1394.3,772.6 1390.5,773.6 1383.9,769.6 1385.4,763.2 1382.0,762.8 1374.4,761.3 1372.6,764.8 1366.9,767.7 1362.2,771.2 1358.4,773.6 1355.6,777.6 1349.9,779.2 1344.2,781.6ZM1400.3,824.3 1407.1,824.8 1405.6,830.9 1402.8,831.7 1401.3,827.6ZM1453.2,809.3 1456.6,814.1 1459.4,816.5 1464.2,817.0 1462.3,821.3 1459.4,825.8 1457.2,826.1 1457.6,821.3 1455.3,820.6 1456.6,816.5 1453.8,810.7ZM1453.0,823.8 1456.2,826.6 1453.8,831.4 1450.0,834.1 1446.2,840.0 1441.5,838.1 1444.3,832.7 1450.0,827.6ZM1277.7,724.8 1278.1,721.4 1281.5,725.8 1280.4,728.3 1278.1,728.6ZM955.8,456.7 963.3,451.7 967.1,447.1 970.8,450.0 972.5,442.5 983.3,438.8 990.8,437.5 1003.3,440.0 1010.8,446.7 1000.8,458.3 1002.5,462.5 996.7,470.0 992.5,478.3 983.3,484.2 984.2,495.0 977.5,504.2 979.2,510.0 975.0,512.5 966.7,510.0 960.0,510.0 962.5,500.8 967.5,501.7 963.3,494.2 966.7,485.0 964.2,477.5 973.3,474.2 970.8,471.7 961.7,470.8 955.8,460.0ZM946.7,478.3 950.8,466.7 953.3,466.7 955.0,471.7 962.5,477.5 964.2,486.7 957.5,495.0 951.7,492.5 951.7,485.0 946.7,481.7ZM896.7,514.2 902.5,506.7 907.5,503.3 906.7,509.2 899.2,515.8ZM906.7,520.8 909.2,513.3 916.7,517.5 920.8,511.7 923.3,512.5 923.3,517.5 927.5,518.3 925.0,523.3 915.0,525.8 913.3,521.7ZM935.0,515.8 940.0,511.7 943.3,514.2 941.7,521.7 938.3,522.5ZM945.8,523.3 948.3,520.0 950.0,524.2ZM945.0,508.3 949.2,507.5 955.8,511.7 956.7,519.2 966.7,519.2 975.8,521.7 975.0,525.0 960.0,525.8 953.3,522.5 950.8,514.2ZM929.2,488.3 934.2,490.8 938.3,496.7 933.3,496.7ZM941.7,491.7 946.7,495.0 945.8,498.3 943.3,497.5ZM914.2,500.0 918.3,498.3 919.2,500.8 915.8,502.5ZM894.2,529.2 905.0,530.0 906.7,534.0 893.3,534.0ZM948.3,530.8 955.0,530.8 955.0,534.0 947.5,534.0ZM958.3,541.7 962.5,535.0 965.0,540.0 971.7,534.2 975.0,539.2 980.0,541.7 991.7,547.5 1000.0,556.7 999.2,563.3 1010.0,572.5 1006.7,577.5 1000.0,572.5 1000.0,578.3 1005.0,586.7 1000.8,590.8 987.5,580.0 980.8,580.0 990.0,570.0 987.5,563.3 978.3,553.3 968.3,553.3 960.0,550.8ZM903.3,545.0 910.0,536.7 924.2,538.3 926.7,547.5 935.0,555.8 921.7,560.0 912.5,561.7 906.7,551.7ZM890.8,544.2 894.2,529.2 907.5,531.7 899.2,546.7ZM935.0,540.0 940.8,534.2 945.0,541.7 941.7,545.0ZM946.7,535.0 953.3,530.8 955.0,533.3 949.2,540.8ZM906.7,521.7 926.7,520.0 923.3,525.0 913.3,526.7ZM953.3,520.0 975.8,520.0 975.0,525.0 960.0,525.8ZM965.0,578.3 971.7,583.3 975.0,585.8 966.7,586.7ZM980.8,580.0 986.7,579.2 985.0,581.7 980.8,581.7ZM858.0,1080.8 858.0,1072.0 846.0,1068.0 838.0,1056.0 840.0,1032.0 836.0,1022.0 844.0,1020.0 850.0,1006.0 848.0,1000.0 838.0,996.0 830.0,986.0 830.0,980.0 838.0,982.0 852.0,970.0 854.0,966.0 874.0,960.0 902.0,958.0 914.0,956.0 926.0,964.0 938.0,964.0 934.0,950.0 946.0,952.0 960.0,950.0 976.0,954.0 988.0,954.0 1002.0,948.0 1010.0,942.0 1012.0,930.0 1006.0,920.0 1010.0,906.0 1018.0,900.0 1014.0,904.0 1004.0,914.0 999.0,928.0 1002.0,936.0 1004.0,946.0 1012.0,954.0 1002.0,966.0 990.0,974.0 982.0,976.0 982.0,986.0 988.0,990.0 980.0,992.0 980.0,1000.0 986.0,1010.0 1006.0,1022.0 1018.0,1046.0 1030.0,1032.0 1046.0,1030.0 1050.0,1024.0 1072.0,1008.0 1062.0,998.0 1060.0,990.0 1080.0,970.0 1098.0,958.0 1098.0,952.0 1110.0,940.0 1144.0,932.0 1172.0,934.0 1192.0,926.0 1204.0,928.0 1228.0,912.0 1240.0,916.0 1258.0,926.0 1256.0,942.0 1262.0,944.0 1278.0,922.0 1294.0,916.0 1322.0,910.0 1344.0,912.0 1356.0,916.0 1384.0,910.0 1404.0,918.0 1432.0,934.0 1450.0,940.0 1440.0,958.0 1436.0,978.0 1442.0,992.0 1432.0,1002.0 1432.0,1022.0 1440.0,1038.0 1460.0,1080.8 1460.0,1095.0 858.0,1095.0ZM1527.6,978.0 1510.0,982.0 1514.0,994.0 1527.6,1000.0ZM1527.6,1018.0 1516.0,1022.0 1520.0,1038.0 1527.6,1036.0ZM790.0,1080.8 790.0,1068.0 794.0,1066.0 798.0,1070.0 806.0,1062.0 818.0,1080.8 818.0,1095.0 790.0,1095.0ZM1026.0,1014.0 1036.0,988.0 1044.0,990.0 1046.0,1006.0 1030.0,1018.0ZM1004.0,1012.0 1012.0,1006.0 1014.0,1016.0 1006.0,1016.0ZM986.0,942.0 992.0,928.0 998.0,930.0 998.0,944.0ZM820.0,992.0 824.0,990.0 826.0,1000.0 822.0,1000.0Z" fill="#bcd0d6" transform="translate(0.6,1.6)"/><path d="M809.7,574.3 816.3,565.2 812.5,561.2 821.9,550.5 831.4,544.8 839.9,547.7 853.1,551.6 860.7,554.4 870.1,557.6 880.0,555.8 888.3,555.0 907.5,556.7 913.3,560.8 933.3,559.2 945.0,565.0 947.5,563.3 945.0,553.3 946.7,547.5 951.7,545.8 955.0,555.0 955.0,560.0 963.3,566.7 965.8,571.7 973.3,570.0 965.0,575.0 963.3,580.0 958.3,583.3 953.3,590.0 949.2,599.2 949.2,604.2 953.3,611.7 963.3,614.2 972.5,617.5 975.0,630.0 979.2,620.0 983.3,611.7 980.0,599.2 981.7,591.7 988.3,592.5 996.7,600.0 1000.0,607.5 1005.0,601.7 1010.0,610.0 1013.3,615.8 1021.7,625.0 1015.6,629.7 1002.3,630.0 994.8,637.8 1005.2,634.1 1004.2,639.2 1011.8,642.5 1013.7,641.9 1007.1,645.7 1002.3,647.8 1000.6,645.1 993.8,649.9 994.8,653.2 987.2,656.2 983.4,664.7 983.4,669.3 974.9,676.1 974.0,681.6 975.9,688.1 974.9,690.8 972.1,688.1 970.6,684.9 968.3,680.6 960.8,679.9 957.9,682.3 949.4,681.2 943.4,685.3 942.5,693.3 942.8,698.4 947.6,704.0 954.2,704.4 956.1,699.4 962.7,698.4 960.8,705.0 959.8,709.4 968.3,709.8 969.7,711.7 968.9,719.1 972.5,722.9 976.8,722.0 980.6,723.9 979.7,725.8 975.9,726.2 972.1,724.5 965.1,721.0 961.7,715.2 954.2,713.3 948.5,709.0 944.7,710.0 938.1,707.8 927.7,701.4 928.3,697.8 925.8,694.7 920.2,688.1 914.5,681.6 910.2,677.0 913.6,682.7 917.3,689.1 920.2,695.3 915.4,691.6 910.7,685.3 906.9,677.3 905.6,674.6 903.2,671.4 899.2,670.5 895.6,663.5 892.8,656.7 891.8,649.9 892.8,641.4 891.5,635.2 894.7,633.5 887.1,629.1 881.4,616.7 875.8,608.3 868.2,603.0 862.6,598.2 851.2,594.4 843.7,599.3 839.9,595.6 836.1,606.6 828.6,611.7 821.0,615.1 816.3,616.7 828.6,602.3 821.0,597.8 814.6,593.6 816.3,585.6 822.9,579.6 815.3,578.7ZM1489.7,574.3 1496.3,565.2 1492.5,561.2 1501.9,550.5 1511.4,544.8 1519.9,547.7 1533.1,551.6 1540.7,554.4 1550.1,557.6 1560.0,555.8 1568.3,555.0 1587.5,556.7 1593.3,560.8 1613.3,559.2 1625.0,565.0 1627.5,563.3 1625.0,553.3 1626.7,547.5 1631.7,545.8 1635.0,555.0 1635.0,560.0 1643.3,566.7 1645.8,571.7 1653.3,570.0 1645.0,575.0 1643.3,580.0 1638.3,583.3 1633.3,590.0 1629.2,599.2 1629.2,604.2 1633.3,611.7 1643.3,614.2 1652.5,617.5 1655.0,630.0 1659.2,620.0 1663.3,611.7 1660.0,599.2 1661.7,591.7 1668.3,592.5 1676.7,600.0 1680.0,607.5 1685.0,601.7 1690.0,610.0 1693.3,615.8 1701.7,625.0 1695.6,629.7 1682.3,630.0 1674.8,637.8 1685.2,634.1 1684.2,639.2 1691.8,642.5 1693.7,641.9 1687.1,645.7 1682.3,647.8 1680.6,645.1 1673.8,649.9 1674.8,653.2 1667.2,656.2 1663.4,664.7 1663.4,669.3 1654.9,676.1 1654.0,681.6 1655.9,688.1 1654.9,690.8 1652.1,688.1 1650.6,684.9 1648.3,680.6 1640.8,679.9 1637.9,682.3 1629.4,681.2 1623.4,685.3 1622.5,693.3 1622.8,698.4 1627.6,704.0 1634.2,704.4 1636.1,699.4 1642.7,698.4 1640.8,705.0 1639.8,709.4 1648.3,709.8 1649.7,711.7 1648.9,719.1 1652.5,722.9 1656.8,722.0 1660.6,723.9 1659.7,725.8 1655.9,726.2 1652.1,724.5 1645.1,721.0 1641.7,715.2 1634.2,713.3 1628.5,709.0 1624.7,710.0 1618.1,707.8 1607.7,701.4 1608.3,697.8 1605.8,694.7 1600.2,688.1 1594.5,681.6 1590.2,677.0 1593.6,682.7 1597.3,689.1 1600.2,695.3 1595.4,691.6 1590.7,685.3 1586.9,677.3 1585.6,674.6 1583.2,671.4 1579.2,670.5 1575.6,663.5 1572.8,656.7 1571.8,649.9 1572.8,641.4 1571.5,635.2 1574.7,633.5 1567.1,629.1 1561.4,616.7 1555.8,608.3 1548.2,603.0 1542.6,598.2 1531.2,594.4 1523.7,599.3 1519.9,595.6 1516.1,606.6 1508.6,611.7 1501.0,615.1 1496.3,616.7 1508.6,602.3 1501.0,597.8 1494.6,593.6 1496.3,585.6 1502.9,579.6 1495.3,578.7ZM989.1,493.4 1002.3,470.8 1013.7,454.8 1042.0,447.9 1064.7,427.9 1079.8,434.4 1089.2,452.1 1104.3,458.7 1093.0,486.7 1091.1,513.0 1085.4,534.3 1085.4,549.4 1077.9,560.2 1066.6,562.7 1057.1,574.7 1049.6,585.6 1045.8,597.1 1042.0,595.6 1034.4,589.7 1030.7,579.2 1026.9,570.1 1024.1,554.9 1029.7,549.4 1023.1,540.6 1019.3,522.7 1008.0,509.0 998.6,504.9ZM1015.0,637.5 1022.2,625.8 1021.2,632.1 1025.9,632.7 1027.5,637.8 1025.9,640.3 1021.2,637.8ZM966.4,697.8 972.1,694.9 979.7,696.4 986.8,701.0 980.2,701.6 974.9,698.4ZM986.3,704.4 990.1,701.6 997.6,704.2 992.9,705.4 986.5,705.2ZM981.0,723.7 983.4,722.0 984.4,719.5 989.1,718.5 991.9,716.4 992.9,719.1 998.6,720.1 1007.1,719.7 1011.8,720.1 1013.7,723.9 1018.4,728.6 1025.0,729.0 1029.7,732.1 1032.6,736.6 1034.4,740.0 1038.2,741.5 1042.9,744.7 1051.4,745.3 1057.1,749.1 1060.5,750.4 1061.3,754.2 1059.9,758.0 1057.1,760.9 1054.3,764.8 1053.3,773.6 1051.4,778.6 1049.6,782.6 1043.9,784.7 1036.3,790.9 1035.4,796.2 1031.6,801.6 1026.9,807.9 1023.1,810.4 1018.4,810.7 1019.7,814.1 1018.2,818.2 1009.9,820.1 1008.9,825.1 1006.1,828.8 1003.3,835.4 999.5,839.4 1002.3,843.6 996.7,852.4 998.0,856.3 997.6,858.5 1003.3,864.9 999.5,867.9 992.9,864.9 987.2,856.9 984.4,845.0 987.2,835.4 988.2,827.6 988.2,817.7 991.9,806.1 991.9,799.4 993.8,788.8 994.4,775.6 991.9,773.2 984.4,768.7 981.6,762.8 977.8,755.2 973.6,751.4 974.0,748.1 974.2,744.2 975.7,738.5 977.8,736.6 980.6,732.4 981.0,727.7 980.0,725.8ZM1094.7,711.9 1095.3,716.2 1098.7,719.1 1101.9,722.9 1106.2,726.9 1112.8,731.7 1119.4,730.2 1125.1,730.5 1130.8,728.1 1135.5,728.1 1138.3,731.9 1143.1,731.5 1145.5,735.3 1144.6,740.0 1143.6,742.3 1148.7,746.6 1149.7,749.5 1150.2,752.3 1151.9,757.1 1153.1,760.9 1150.6,765.7 1149.3,771.6 1149.7,774.6 1154.4,783.6 1155.7,793.0 1158.2,796.4 1161.0,802.7 1161.8,808.4 1164.8,810.2 1169.5,808.4 1175.4,808.4 1178.0,807.2 1183.7,801.6 1188.4,796.2 1189.0,790.9 1194.1,786.7 1194.1,781.6 1192.5,778.2 1195.9,775.6 1203.5,768.7 1203.5,759.9 1201.6,752.3 1201.0,748.9 1205.4,743.2 1210.1,737.2 1214.8,733.4 1218.6,727.7 1223.3,720.1 1223.9,717.6 1217.7,718.7 1210.1,720.2 1208.6,718.1 1207.7,716.0 1204.4,712.3 1200.7,709.8 1197.5,704.4 1195.0,697.4 1193.1,692.2 1190.3,687.0 1188.4,680.8 1187.4,677.9 1182.7,678.6 1174.2,676.6 1170.4,674.8 1164.8,675.9 1163.8,679.5 1159.1,678.4 1155.9,675.5 1151.6,674.1 1148.7,673.5 1146.3,671.2 1147.8,668.2 1147.4,664.4 1145.5,664.0 1142.1,664.9 1136.4,665.1 1128.9,665.9 1123.2,669.1 1115.9,667.5 1114.2,671.6 1108.5,678.4 1108.7,681.6 1102.4,685.9 1099.6,689.1 1095.8,694.3 1094.9,699.4 1096.8,703.4 1095.8,708.4ZM1220.1,762.8 1222.4,769.6 1220.5,773.6 1217.7,782.6 1215.8,788.8 1212.0,790.0 1209.5,784.7 1209.2,780.6 1210.9,776.6 1210.1,771.6 1214.8,769.6 1217.7,765.7ZM508.4,680.8 512.9,681.6 515.0,687.0 517.8,693.3 520.7,698.4 524.4,705.4 527.7,710.4 528.8,715.8 532.0,715.6 538.6,713.3 545.2,709.8 551.8,706.4 554.7,704.0 560.0,696.4 557.5,694.1 553.5,688.5 552.8,692.2 550.9,691.2 545.2,693.3 544.3,690.6 542.4,688.7 538.6,684.9 537.7,680.8 541.4,680.1 544.3,685.3 549.9,687.4 553.7,686.8 555.6,689.7 563.2,690.8 572.6,690.4 576.4,694.3 577.3,696.8 583.9,699.4 584.5,703.4 585.8,709.4 587.7,713.3 588.7,717.2 591.5,722.9 593.4,724.6 598.1,721.4 598.5,714.3 600.0,709.8 602.8,707.4 610.4,701.4 611.3,698.4 615.1,697.4 619.8,696.4 621.3,700.0 625.5,706.4 625.1,709.4 631.2,708.4 633.1,714.3 632.5,721.0 633.1,724.8 636.8,727.7 636.5,732.4 642.5,737.5 643.8,737.2 641.9,731.5 639.7,728.5 637.0,725.8 635.9,716.2 636.8,714.3 639.7,716.2 641.6,719.1 645.0,723.7 648.2,720.4 652.9,718.1 653.5,714.3 651.9,710.4 648.2,705.8 646.8,703.4 648.2,700.4 651.0,698.4 654.8,699.4 655.2,701.0 656.7,698.4 661.4,697.0 667.1,695.3 671.8,690.2 673.7,687.4 676.5,683.8 677.4,678.8 675.2,675.0 672.2,670.5 674.6,666.6 678.4,664.7 671.8,664.2 669.5,661.1 669.9,659.4 676.5,655.2 675.9,659.9 678.4,656.2 682.2,657.9 684.1,662.8 685.9,670.7 691.2,668.9 691.6,664.7 688.8,660.9 692.2,654.9 693.7,651.4 698.2,650.4 702.9,647.5 707.7,640.6 712.4,635.0 712.4,626.1 714.1,620.6 706.7,618.3 702.4,616.1 705.8,610.0 713.3,601.2 725.6,600.1 733.2,600.8 739.8,599.3 743.2,591.3 749.2,590.5 754.9,587.6 749.2,604.8 741.7,606.6 742.6,627.6 746.4,623.1 749.2,616.7 753.9,611.7 755.5,604.8 758.7,597.5 768.1,597.5 773.8,591.7 782.3,587.6 786.1,577.0 787.0,574.7 798.3,572.4 800.2,580.1 801.2,574.7 806.3,572.4 805.9,568.2 796.4,565.2 787.0,558.6 783.2,554.9 768.1,552.2 751.1,554.9 747.3,547.7 736.0,546.5 720.9,538.7 711.4,537.5 692.6,546.5 690.7,535.6 683.1,531.0 669.9,531.0 660.4,529.0 654.8,527.6 647.2,513.0 643.4,498.9 634.0,509.0 626.4,513.0 611.3,524.2 610.4,530.3 598.1,537.5 600.0,543.6 595.3,538.1 587.7,535.6 583.9,546.5 583.9,560.2 575.4,560.2 577.3,535.6 574.5,543.6 571.7,554.9 561.3,553.3 556.6,560.2 548.1,561.7 530.1,560.2 530.1,572.4 522.6,570.1 511.2,556.0 499.9,546.5 492.3,546.5 482.9,552.2 474.4,562.7 470.6,574.7 466.8,583.5 456.8,589.7 457.4,601.2 460.2,604.8 462.5,604.5 466.8,600.5 469.7,604.8 471.2,613.4 474.0,613.4 478.2,610.0 479.1,603.0 481.9,599.3 480.1,593.6 480.1,587.6 486.7,579.2 489.5,573.3 495.2,576.1 494.2,583.5 487.6,593.6 489.5,597.5 502.7,596.7 492.3,600.1 491.4,604.8 488.0,606.6 486.7,611.7 483.8,617.0 474.4,618.3 467.8,618.3 467.4,611.7 466.8,605.9 462.5,608.3 463.1,615.1 463.6,618.7 460.2,619.9 456.1,621.5 453.6,626.1 449.8,627.6 444.2,631.5 437.9,635.2 443.2,639.2 444.7,645.9 443.6,649.1 431.9,648.0 429.4,649.9 430.4,654.9 429.1,660.6 430.2,664.7 434.7,664.9 436.4,667.0 438.5,665.4 443.2,665.1 446.1,662.3 447.4,658.7 447.0,657.4 448.9,654.9 453.0,652.4 452.7,649.3 456.1,649.1 461.2,647.8 463.6,646.2 466.5,648.6 468.7,651.7 473.1,654.9 476.8,657.4 477.2,662.3 479.5,659.9 479.1,656.2 481.9,656.9 477.2,653.7 473.4,650.9 470.2,645.7 472.5,642.7 473.4,645.1 479.1,649.9 483.8,652.9 483.6,656.7 486.7,661.1 487.6,665.1 490.4,665.9 492.3,662.3 490.1,656.2 492.3,655.7 497.1,655.4 496.5,657.4 497.1,659.9 498.9,664.7 501.8,665.9 507.4,666.6 514.1,665.6 515.0,667.5 514.1,672.8 512.2,677.3 508.4,678.4ZM1188.4,680.8 1192.9,681.6 1195.0,687.0 1197.8,693.3 1200.7,698.4 1204.4,705.4 1207.7,710.4 1208.8,715.8 1212.0,715.6 1218.6,713.3 1225.2,709.8 1231.8,706.4 1234.7,704.0 1240.0,696.4 1237.5,694.1 1233.5,688.5 1232.8,692.2 1230.9,691.2 1225.2,693.3 1224.3,690.6 1222.4,688.7 1218.6,684.9 1217.7,680.8 1221.4,680.1 1224.3,685.3 1229.9,687.4 1233.7,686.8 1235.6,689.7 1243.2,690.8 1252.6,690.4 1256.4,694.3 1257.3,696.8 1263.9,699.4 1264.5,703.4 1265.8,709.4 1267.7,713.3 1268.7,717.2 1271.5,722.9 1273.4,724.6 1278.1,721.4 1278.5,714.3 1280.0,709.8 1282.8,707.4 1290.4,701.4 1291.3,698.4 1295.1,697.4 1299.8,696.4 1301.3,700.0 1305.5,706.4 1305.1,709.4 1311.2,708.4 1313.1,714.3 1312.5,721.0 1313.1,724.8 1316.8,727.7 1316.5,732.4 1322.5,737.5 1323.8,737.2 1321.9,731.5 1319.7,728.5 1317.0,725.8 1315.9,716.2 1316.8,714.3 1319.7,716.2 1321.6,719.1 1325.0,723.7 1328.2,720.4 1332.9,718.1 1333.5,714.3 1331.9,710.4 1328.2,705.8 1326.8,703.4 1328.2,700.4 1331.0,698.4 1334.8,699.4 1335.2,701.0 1336.7,698.4 1341.4,697.0 1347.1,695.3 1351.8,690.2 1353.7,687.4 1356.5,683.8 1357.4,678.8 1355.2,675.0 1352.2,670.5 1354.6,666.6 1358.4,664.7 1351.8,664.2 1349.5,661.1 1349.9,659.4 1356.5,655.2 1355.9,659.9 1358.4,656.2 1362.2,657.9 1364.1,662.8 1365.9,670.7 1371.2,668.9 1371.6,664.7 1368.8,660.9 1372.2,654.9 1373.7,651.4 1378.2,650.4 1382.9,647.5 1387.7,640.6 1392.4,635.0 1392.4,626.1 1394.1,620.6 1386.7,618.3 1382.4,616.1 1385.8,610.0 1393.3,601.2 1405.6,600.1 1413.2,600.8 1419.8,599.3 1423.2,591.3 1429.2,590.5 1434.9,587.6 1429.2,604.8 1421.7,606.6 1422.6,627.6 1426.4,623.1 1429.2,616.7 1433.9,611.7 1435.5,604.8 1438.7,597.5 1448.1,597.5 1453.8,591.7 1462.3,587.6 1466.1,577.0 1467.0,574.7 1478.3,572.4 1480.2,580.1 1481.2,574.7 1486.3,572.4 1485.9,568.2 1476.4,565.2 1467.0,558.6 1463.2,554.9 1448.1,552.2 1431.1,554.9 1427.3,547.7 1416.0,546.5 1400.9,538.7 1391.4,537.5 1372.6,546.5 1370.7,535.6 1363.1,531.0 1349.9,531.0 1340.4,529.0 1334.8,527.6 1327.2,513.0 1323.4,498.9 1314.0,509.0 1306.4,513.0 1291.3,524.2 1290.4,530.3 1278.1,537.5 1280.0,543.6 1275.3,538.1 1267.7,535.6 1263.9,546.5 1263.9,560.2 1255.4,560.2 1257.3,535.6 1254.5,543.6 1251.7,554.9 1241.3,553.3 1236.6,560.2 1228.1,561.7 1210.1,560.2 1210.1,572.4 1202.6,570.1 1191.2,556.0 1179.9,546.5 1172.3,546.5 1162.9,552.2 1154.4,562.7 1150.6,574.7 1146.8,583.5 1136.8,589.7 1137.4,601.2 1140.2,604.8 1142.5,604.5 1146.8,600.5 1149.7,604.8 1151.2,613.4 1154.0,613.4 1158.2,610.0 1159.1,603.0 1161.9,599.3 1160.1,593.6 1160.1,587.6 1166.7,579.2 1169.5,573.3 1175.2,576.1 1174.2,583.5 1167.6,593.6 1169.5,597.5 1182.7,596.7 1172.3,600.1 1171.4,604.8 1168.0,606.6 1166.7,611.7 1163.8,617.0 1154.4,618.3 1147.8,618.3 1147.4,611.7 1146.8,605.9 1142.5,608.3 1143.1,615.1 1143.6,618.7 1140.2,619.9 1136.1,621.5 1133.6,626.1 1129.8,627.6 1124.2,631.5 1117.9,635.2 1123.2,639.2 1124.7,645.9 1123.6,649.1 1111.9,648.0 1109.4,649.9 1110.4,654.9 1109.1,660.6 1110.2,664.7 1114.7,664.9 1116.4,667.0 1118.5,665.4 1123.2,665.1 1126.1,662.3 1127.4,658.7 1127.0,657.4 1128.9,654.9 1133.0,652.4 1132.7,649.3 1136.1,649.1 1141.2,647.8 1143.6,646.2 1146.5,648.6 1148.7,651.7 1153.1,654.9 1156.8,657.4 1157.2,662.3 1159.5,659.9 1159.1,656.2 1161.9,656.9 1157.2,653.7 1153.4,650.9 1150.2,645.7 1152.5,642.7 1153.4,645.1 1159.1,649.9 1163.8,652.9 1163.6,656.7 1166.7,661.1 1167.6,665.1 1170.4,665.9 1172.3,662.3 1170.1,656.2 1172.3,655.7 1177.1,655.4 1176.5,657.4 1177.1,659.9 1178.9,664.7 1181.8,665.9 1187.4,666.6 1194.1,665.6 1195.0,667.5 1194.1,672.8 1192.2,677.3 1188.4,678.4ZM1116.2,630.6 1129.6,627.0 1130.2,622.4 1127.4,619.9 1124.2,613.4 1123.2,606.2 1120.4,602.7 1117.6,602.7 1115.7,608.3 1116.6,613.4 1117.9,615.7 1121.3,619.9 1118.5,622.1 1117.2,625.5 1121.3,626.1ZM1115.7,624.0 1115.3,619.9 1116.6,616.7 1112.8,614.1 1108.1,617.7 1108.1,624.6 1111.9,626.1ZM1085.4,581.4 1081.7,574.7 1085.4,570.5 1096.8,570.1 1100.6,574.7 1098.7,580.1 1092.1,583.9ZM1147.8,491.6 1157.2,476.3 1178.0,476.3 1168.6,496.2 1159.1,509.0 1153.4,500.6ZM1225.2,543.6 1230.9,534.3 1234.7,516.9 1244.1,509.0 1255.4,504.9 1238.4,524.2 1232.8,543.6 1227.1,547.7ZM1306.4,481.6 1315.9,464.9 1325.3,481.6 1314.0,491.6ZM1383.9,520.6 1395.2,513.0 1410.3,520.6 1391.4,531.0ZM1395.2,641.9 1398.1,632.1 1397.1,618.3 1396.2,617.4 1395.2,627.6 1394.8,640.6ZM1374.3,671.6 1378.2,670.5 1382.0,670.5 1385.4,670.5 1388.6,670.0 1391.4,669.3 1393.0,667.0 1393.3,661.6 1395.2,658.7 1394.3,653.9 1391.4,656.2 1391.1,661.1 1385.8,664.7 1383.9,667.7 1378.2,668.2 1374.4,670.5ZM1391.4,653.7 1394.3,651.2 1399.0,649.9 1401.8,649.1 1400.9,646.7 1395.2,643.3 1394.3,647.8ZM1372.6,675.0 1375.4,677.7 1376.3,672.8 1372.6,672.1ZM1354.0,695.3 1355.6,697.6 1357.4,691.2 1356.5,690.6 1353.7,693.3ZM1332.1,703.4 1334.8,701.4 1336.7,702.2 1333.8,705.0ZM1353.7,709.4 1354.6,704.4 1357.8,704.4 1357.4,708.4 1361.2,715.2 1356.5,713.7 1354.6,712.3ZM1357.4,726.7 1365.9,726.7 1364.1,722.0 1359.3,723.9ZM1357.4,718.1 1364.1,719.1 1362.2,721.4 1358.4,721.0ZM1332.7,737.2 1333.8,741.9 1335.7,745.7 1342.3,746.6 1346.7,747.2 1346.1,741.9 1348.9,739.1 1350.8,738.1 1349.5,732.4 1352.2,730.0 1348.0,726.7 1346.1,727.7 1344.2,730.5 1340.4,734.0 1336.7,736.6ZM1307.0,729.4 1312.1,732.4 1316.8,736.2 1322.5,741.9 1327.2,745.7 1327.2,751.0 1324.4,751.0 1318.7,745.7 1314.0,740.0 1311.2,735.3ZM1325.7,752.9 1331.0,751.7 1336.7,752.3 1343.3,754.6 1343.3,756.5 1336.7,755.5 1327.2,754.2ZM1352.7,750.4 1351.8,745.7 1353.7,738.5 1362.2,737.2 1355.6,739.1 1359.3,741.5 1356.5,742.8 1357.4,749.5 1354.6,744.7 1354.6,750.4ZM1374.4,742.8 1381.1,741.9 1386.7,742.8 1393.3,744.9 1401.8,748.5 1406.6,752.3 1410.3,759.9 1404.7,759.0 1399.0,754.8 1396.2,757.6 1393.3,757.1 1389.6,755.2 1387.3,750.0 1382.0,748.1 1376.3,745.3ZM1341.4,782.6 1342.3,790.9 1344.2,798.4 1345.5,807.2 1349.9,810.7 1360.3,807.9 1365.0,804.5 1370.7,803.2 1375.4,802.7 1380.1,805.6 1383.1,810.4 1386.7,806.1 1387.3,812.3 1390.7,815.3 1392.4,817.7 1399.0,818.9 1403.3,820.4 1406.6,817.2 1410.3,816.5 1412.6,808.1 1416.0,801.6 1417.1,795.6 1416.0,788.8 1411.8,783.6 1408.4,779.6 1403.7,776.6 1401.8,768.7 1398.1,766.7 1396.2,760.3 1394.3,764.8 1394.3,772.6 1390.5,773.6 1383.9,769.6 1385.4,763.2 1382.0,762.8 1374.4,761.3 1372.6,764.8 1366.9,767.7 1362.2,771.2 1358.4,773.6 1355.6,777.6 1349.9,779.2 1344.2,781.6ZM1400.3,824.3 1407.1,824.8 1405.6,830.9 1402.8,831.7 1401.3,827.6ZM1453.2,809.3 1456.6,814.1 1459.4,816.5 1464.2,817.0 1462.3,821.3 1459.4,825.8 1457.2,826.1 1457.6,821.3 1455.3,820.6 1456.6,816.5 1453.8,810.7ZM1453.0,823.8 1456.2,826.6 1453.8,831.4 1450.0,834.1 1446.2,840.0 1441.5,838.1 1444.3,832.7 1450.0,827.6ZM1277.7,724.8 1278.1,721.4 1281.5,725.8 1280.4,728.3 1278.1,728.6ZM955.8,456.7 963.3,451.7 967.1,447.1 970.8,450.0 972.5,442.5 983.3,438.8 990.8,437.5 1003.3,440.0 1010.8,446.7 1000.8,458.3 1002.5,462.5 996.7,470.0 992.5,478.3 983.3,484.2 984.2,495.0 977.5,504.2 979.2,510.0 975.0,512.5 966.7,510.0 960.0,510.0 962.5,500.8 967.5,501.7 963.3,494.2 966.7,485.0 964.2,477.5 973.3,474.2 970.8,471.7 961.7,470.8 955.8,460.0ZM946.7,478.3 950.8,466.7 953.3,466.7 955.0,471.7 962.5,477.5 964.2,486.7 957.5,495.0 951.7,492.5 951.7,485.0 946.7,481.7ZM896.7,514.2 902.5,506.7 907.5,503.3 906.7,509.2 899.2,515.8ZM906.7,520.8 909.2,513.3 916.7,517.5 920.8,511.7 923.3,512.5 923.3,517.5 927.5,518.3 925.0,523.3 915.0,525.8 913.3,521.7ZM935.0,515.8 940.0,511.7 943.3,514.2 941.7,521.7 938.3,522.5ZM945.8,523.3 948.3,520.0 950.0,524.2ZM945.0,508.3 949.2,507.5 955.8,511.7 956.7,519.2 966.7,519.2 975.8,521.7 975.0,525.0 960.0,525.8 953.3,522.5 950.8,514.2ZM929.2,488.3 934.2,490.8 938.3,496.7 933.3,496.7ZM941.7,491.7 946.7,495.0 945.8,498.3 943.3,497.5ZM914.2,500.0 918.3,498.3 919.2,500.8 915.8,502.5ZM894.2,529.2 905.0,530.0 906.7,534.0 893.3,534.0ZM948.3,530.8 955.0,530.8 955.0,534.0 947.5,534.0ZM958.3,541.7 962.5,535.0 965.0,540.0 971.7,534.2 975.0,539.2 980.0,541.7 991.7,547.5 1000.0,556.7 999.2,563.3 1010.0,572.5 1006.7,577.5 1000.0,572.5 1000.0,578.3 1005.0,586.7 1000.8,590.8 987.5,580.0 980.8,580.0 990.0,570.0 987.5,563.3 978.3,553.3 968.3,553.3 960.0,550.8ZM903.3,545.0 910.0,536.7 924.2,538.3 926.7,547.5 935.0,555.8 921.7,560.0 912.5,561.7 906.7,551.7ZM890.8,544.2 894.2,529.2 907.5,531.7 899.2,546.7ZM935.0,540.0 940.8,534.2 945.0,541.7 941.7,545.0ZM946.7,535.0 953.3,530.8 955.0,533.3 949.2,540.8ZM906.7,521.7 926.7,520.0 923.3,525.0 913.3,526.7ZM953.3,520.0 975.8,520.0 975.0,525.0 960.0,525.8ZM965.0,578.3 971.7,583.3 975.0,585.8 966.7,586.7ZM980.8,580.0 986.7,579.2 985.0,581.7 980.8,581.7ZM858.0,1080.8 858.0,1072.0 846.0,1068.0 838.0,1056.0 840.0,1032.0 836.0,1022.0 844.0,1020.0 850.0,1006.0 848.0,1000.0 838.0,996.0 830.0,986.0 830.0,980.0 838.0,982.0 852.0,970.0 854.0,966.0 874.0,960.0 902.0,958.0 914.0,956.0 926.0,964.0 938.0,964.0 934.0,950.0 946.0,952.0 960.0,950.0 976.0,954.0 988.0,954.0 1002.0,948.0 1010.0,942.0 1012.0,930.0 1006.0,920.0 1010.0,906.0 1018.0,900.0 1014.0,904.0 1004.0,914.0 999.0,928.0 1002.0,936.0 1004.0,946.0 1012.0,954.0 1002.0,966.0 990.0,974.0 982.0,976.0 982.0,986.0 988.0,990.0 980.0,992.0 980.0,1000.0 986.0,1010.0 1006.0,1022.0 1018.0,1046.0 1030.0,1032.0 1046.0,1030.0 1050.0,1024.0 1072.0,1008.0 1062.0,998.0 1060.0,990.0 1080.0,970.0 1098.0,958.0 1098.0,952.0 1110.0,940.0 1144.0,932.0 1172.0,934.0 1192.0,926.0 1204.0,928.0 1228.0,912.0 1240.0,916.0 1258.0,926.0 1256.0,942.0 1262.0,944.0 1278.0,922.0 1294.0,916.0 1322.0,910.0 1344.0,912.0 1356.0,916.0 1384.0,910.0 1404.0,918.0 1432.0,934.0 1450.0,940.0 1440.0,958.0 1436.0,978.0 1442.0,992.0 1432.0,1002.0 1432.0,1022.0 1440.0,1038.0 1460.0,1080.8 1460.0,1095.0 858.0,1095.0ZM1527.6,978.0 1510.0,982.0 1514.0,994.0 1527.6,1000.0ZM1527.6,1018.0 1516.0,1022.0 1520.0,1038.0 1527.6,1036.0ZM790.0,1080.8 790.0,1068.0 794.0,1066.0 798.0,1070.0 806.0,1062.0 818.0,1080.8 818.0,1095.0 790.0,1095.0ZM1026.0,1014.0 1036.0,988.0 1044.0,990.0 1046.0,1006.0 1030.0,1018.0ZM1004.0,1012.0 1012.0,1006.0 1014.0,1016.0 1006.0,1016.0ZM986.0,942.0 992.0,928.0 998.0,930.0 998.0,944.0ZM820.0,992.0 824.0,990.0 826.0,1000.0 822.0,1000.0Z" fill="#faf9f6"/><path d="M1179.9,653.7 1180.8,648.6 1183.7,643.3 1189.3,641.9 1195.0,643.8 1198.8,639.2 1201.6,639.2 1197.8,644.6 1202.2,648.6 1205.4,653.7 1198.8,654.9 1193.1,652.4 1185.6,654.4ZM1215.8,647.3 1216.7,643.3 1220.5,640.6 1227.1,639.7 1227.1,644.6 1223.3,646.7 1226.7,652.4 1227.1,657.4 1229.0,661.1 1228.1,664.7 1222.4,664.7 1219.6,661.1 1220.5,656.2 1217.7,652.4ZM1238.4,640.6 1243.2,640.6 1242.2,647.3 1237.5,647.8ZM1266.8,640.6 1274.3,639.7 1276.2,641.9 1267.7,643.3ZM1323.4,626.1 1327.2,623.1 1332.9,613.4 1334.4,615.1 1329.1,624.6 1324.4,626.7ZM953.2,640.0 958.9,635.0 966.4,634.1 967.4,640.6 960.8,640.8ZM961.2,653.2 962.3,641.9 966.4,642.5 963.6,651.2ZM967.4,642.2 973.1,643.8 975.9,645.9 971.2,649.9 969.3,647.3ZM969.5,653.2 977.8,650.4 974.9,651.2ZM976.3,649.1 983.1,647.3 982.5,649.1ZM890.9,577.0 898.4,567.7 904.1,570.1 902.2,577.0 894.7,577.9ZM906.0,593.6 909.8,587.6 918.3,586.4 913.6,591.3 907.9,594.0ZM940.0,629.1 943.8,619.0 940.9,619.9 942.8,627.6ZM1187.1,740.6 1191.2,740.6 1191.2,745.7 1187.4,744.9Z" fill="#d4dfe3"/><path d="M860.7,554.4 860.7,596.3 864.4,597.5 867.3,601.2 871.1,598.2 874.8,603.0 879.6,611.7 881.4,615.1M894.1,633.5 947.2,633.5 947.6,632.4 957.9,636.4 966.8,639.7 969.3,641.9 971.4,643.8 971.2,651.2 970.0,652.4 977.8,649.3 977.4,648.6 982.5,646.7 985.9,644.6 991.9,644.6 993.5,643.3 996.3,638.1 998.6,638.1 998.9,642.7 1000.4,644.6M905.8,675.0 910.3,674.6 917.3,677.7 922.6,677.7 925.8,676.6 929.6,681.4 932.4,682.7 935.5,681.0 939.1,685.9 943.4,689.3M952.8,712.3 953.2,705.8 955.1,705.8 958.5,705.8 960.2,704.4M995.7,856.3 991.4,838.1 991.9,822.6 993.8,810.7 995.2,799.4 998.2,786.7 1000.1,784.3 997.4,776.6 995.7,773.6M1017.1,806.1 1018.2,799.9 1025.9,791.9 1023.9,789.8 1018.0,783.0 1017.1,778.6 1013.7,771.2 1004.2,759.0 995.7,760.9 990.1,758.0 988.5,748.5 994.8,747.6 995.2,736.6 1000.8,737.7 1005.7,732.4 1012.7,730.2M995.7,773.6 996.7,769.6 995.7,760.9 988.2,754.2 985.0,740.2 978.7,737.4M1183.7,553.8 1180.8,562.7 1183.7,583.5 1178.9,595.6M1171.6,560.7 1165.7,557.6 1153.4,574.7 1150.0,585.6 1150.6,593.6 1148.2,601.2M1179.9,595.6 1179.5,607.3 1178.6,612.4 1171.4,618.3 1172.3,629.1 1169.5,635.8 1177.1,635.5 1183.7,643.3M1153.4,618.3 1154.4,627.6 1150.0,630.0 1152.5,634.1 1158.9,634.7 1169.5,635.8M1138.5,627.6 1141.2,637.5 1138.3,641.4 1140.6,647.3 1143.1,636.9 1146.6,638.3 1151.6,640.3 1158.2,640.6 1163.8,641.9 1169.9,645.9 1169.5,651.2 1176.1,652.9 1179.9,652.4M1123.6,649.1 1133.0,651.2M1113.8,652.4 1113.0,658.4 1113.0,664.2M1206.3,653.7 1211.6,654.4 1212.0,658.7 1211.6,664.2 1207.3,664.0 1202.6,665.1 1196.5,665.1 1195.0,672.8M1216.3,652.4 1214.8,647.3 1210.1,640.6 1218.6,630.6 1214.8,626.1 1230.9,627.6 1242.2,627.6 1243.2,618.3 1255.4,613.4 1271.5,618.3 1278.1,627.6 1286.6,628.2 1292.3,633.0 1299.8,627.6 1312.1,624.6 1320.6,629.1 1329.1,630.6 1342.3,630.9 1347.1,630.9 1353.7,623.1 1364.1,621.5 1372.6,633.5 1381.1,635.8 1378.2,644.6 1374.4,651.2 1373.5,651.7M1292.3,633.0 1283.8,638.6 1279.1,644.6 1278.1,651.2 1267.7,657.4 1261.1,658.7 1254.5,664.2 1244.1,668.2 1242.2,681.0 1245.1,690.8M1292.3,633.0 1298.9,643.3 1308.3,650.6 1325.3,652.9 1337.6,648.6 1348.9,640.6 1352.7,639.2 1347.1,630.9M1267.7,664.7 1273.4,668.2 1278.1,675.0 1280.0,680.6 1293.2,685.9 1300.8,685.3 1310.2,684.4 1313.1,691.2 1311.2,694.3 1316.8,698.4 1319.3,696.4 1328.5,695.7 1331.0,698.2M1233.2,688.7 1227.1,693.3 1224.3,692.2M1211.8,664.2 1213.9,669.3 1217.7,680.6M1195.0,672.8 1201.6,675.7 1200.7,680.6 1195.9,681.6 1192.9,681.6M1208.8,715.8 1212.0,711.3 1219.6,704.4 1225.2,703.4 1231.8,696.4 1231.8,690.2M1200.7,676.1 1206.3,678.4 1215.8,682.7M1174.2,676.6 1174.2,697.4 1196.9,697.4 1199.7,705.4 1195.9,715.2 1193.1,720.1 1190.3,724.8 1193.1,729.6 1204.4,732.4 1206.3,743.0M1148.7,673.5 1144.9,680.1 1145.9,692.2 1155.3,695.3 1172.3,702.4 1172.3,710.4 1168.6,716.2 1157.2,725.8 1155.3,737.2 1161.9,732.4 1173.3,730.9 1184.6,733.4 1185.9,741.9 1184.6,754.2 1180.8,756.1 1176.1,760.9 1168.2,764.8 1168.6,771.6 1172.3,773.6 1174.8,774.2 1181.8,782.6 1186.5,789.8M1123.6,669.3 1123.2,675.7 1110.6,683.4 1110.6,686.4 1102.4,698.8 1094.9,698.8M1134.6,665.1 1144.0,675.0 1138.3,694.3 1128.9,699.4 1117.6,708.4 1104.3,711.7 1105.3,716.2M1133.6,697.4 1134.6,709.4 1129.3,715.2 1133.6,717.7 1142.1,714.8 1152.5,713.3 1154.4,724.8 1156.3,737.7M1110.9,721.0 1121.3,720.1 1121.3,730.5 1128.9,727.7 1131.7,716.2M1149.7,749.5 1161.0,755.2 1166.7,753.3 1172.3,759.9M1149.3,773.2 1164.8,773.6 1164.8,782.6 1164.8,788.8 1164.8,796.8 1159.1,796.6M1189.0,792.6 1186.5,783.6 1188.4,779.6 1189.3,771.0 1184.6,769.6 1193.1,768.3 1192.2,761.9 1193.1,758.0 1203.5,759.9M1182.2,748.5 1184.6,744.7 1191.2,741.9 1197.8,746.6 1201.0,748.9M1190.3,724.8 1183.7,721.0 1178.0,722.9 1171.4,720.4 1169.5,715.2M1393.3,744.9 1393.3,757.3M1348.0,732.1 1345.2,731.9 1343.3,737.2 1334.2,736.2" fill="none" stroke="#e6cfd3" stroke-width="1.1"/><circle cx="903.30" cy="636.50" r="24" fill="#6a8f45"/><circle cx="1132.90" cy="621.10" r="24" fill="#6a8f45"/><circle cx="1161.30" cy="644.30" r="24" fill="#6a8f45"/><circle cx="1267.90" cy="645.00" r="24" fill="#6a8f45"/><circle cx="1377.20" cy="667.50" r="24" fill="#6a8f45"/><circle cx="972.30" cy="700.70" r="24" fill="#6a8f45"/><circle cx="1104.20" cy="712.60" r="24" fill="#6a8f45"/><circle cx="1326.60" cy="699.00" r="24" fill="#6a8f45"/><circle cx="1171.00" cy="756.00" r="24" fill="#6a8f45"/><circle cx="800.80" cy="772.50" r="24" fill="#6a8f45"/><circle cx="1021.90" cy="784.40" r="24" fill="#6a8f45"/><circle cx="1482.00" cy="772.50" r="24" fill="#6a8f45"/><circle cx="1420.60" cy="802.20" r="24" fill="#6a8f45"/></svg>
<div class="t " style="left:899.19px;top:629.80px;font-size:15.61px;font-weight:normal;color:#111111;transform:scaleX(0.9477);-webkit-text-stroke:0.16px #111111;">9</div>
<div class="t " style="left:1120.41px;top:614.40px;font-size:15.62px;font-weight:normal;color:#111111;transform:scaleX(0.9590);-webkit-text-stroke:0.16px #111111;">333</div>
<div class="t " style="left:1148.81px;top:637.60px;font-size:15.62px;font-weight:normal;color:#111111;transform:scaleX(0.9590);-webkit-text-stroke:0.16px #111111;">683</div>
<div class="t " style="left:1259.60px;top:638.30px;font-size:15.62px;font-weight:normal;color:#111111;transform:scaleX(0.9562);-webkit-text-stroke:0.16px #111111;">23</div>
<div class="t " style="left:1368.90px;top:660.80px;font-size:15.62px;font-weight:normal;color:#111111;transform:scaleX(0.9562);-webkit-text-stroke:0.16px #111111;">52</div>
<div class="t " style="left:959.81px;top:694.00px;font-size:15.62px;font-weight:normal;color:#111111;transform:scaleX(0.9590);-webkit-text-stroke:0.16px #111111;">155</div>
<div class="t " style="left:1095.90px;top:705.90px;font-size:15.62px;font-weight:normal;color:#111111;transform:scaleX(0.9562);-webkit-text-stroke:0.16px #111111;">33</div>
<div class="t " style="left:1318.30px;top:692.30px;font-size:15.62px;font-weight:normal;color:#111111;transform:scaleX(0.9562);-webkit-text-stroke:0.16px #111111;">96</div>
<div class="t " style="left:1158.51px;top:749.30px;font-size:15.62px;font-weight:normal;color:#111111;transform:scaleX(0.9590);-webkit-text-stroke:0.16px #111111;">136</div>
<div class="t " style="left:796.69px;top:765.80px;font-size:15.61px;font-weight:normal;color:#111111;transform:scaleX(0.9477);-webkit-text-stroke:0.16px #111111;">3</div>
<div class="t " style="left:1013.60px;top:777.70px;font-size:15.62px;font-weight:normal;color:#111111;transform:scaleX(0.9562);-webkit-text-stroke:0.16px #111111;">17</div>
<div class="t " style="left:1477.89px;top:765.80px;font-size:15.61px;font-weight:normal;color:#111111;transform:scaleX(0.9477);-webkit-text-stroke:0.16px #111111;">3</div>
<div class="t " style="left:1412.30px;top:795.50px;font-size:15.62px;font-weight:normal;color:#111111;transform:scaleX(0.9562);-webkit-text-stroke:0.16px #111111;">45</div>
<div class="t " style="left:1127.80px;top:710.92px;font-size:16.06px;font-weight:normal;color:#3e5273;transform:scaleX(1.0938);-webkit-text-stroke:0.55px #3e5273;text-shadow:0 0 2px #fff,0 0 2px #fff;letter-spacing:1.00px;">AFRICA</div>
<div class="t " style="left:1066.80px;top:990.47px;font-size:16.35px;font-weight:normal;color:#3e5273;transform:scaleX(1.0949);-webkit-text-stroke:0.55px #3e5273;text-shadow:0 0 2px #fff,0 0 2px #fff;letter-spacing:1.20px;">ANTARCTICA</div>
<div style="position:absolute;left:1271.3px;top:1040.1px;width:256.7px;height:29.3px;background:#ffffff;border-radius:14.6px 0 0 14.6px"></div>
<div style="position:absolute;left:1271.3px;top:1030px;width:256.7px;height:50px;overflow:hidden">
<div class="t " style="left:10.10px;top:17.23px;font-size:15.55px;font-weight:normal;color:#333333;transform:scaleX(0.9644);">© CARTO, © OpenStreetMap</div>
<div class="t " style="left:211.13px;top:17.56px;font-size:14.90px;font-weight:normal;color:#000000;transform:scaleX(1.0009);-webkit-text-stroke:0.45px #000000;">contributors</div>
</div>
<div style="position:absolute;left:1578.00px;top:338.80px;width:801.00px;height:784.20px;background:#f9fafb;border:1.5px solid #e6e7e9;border-radius:11px;box-sizing:border-box;box-shadow:0 2px 4px rgba(0,0,0,0.07)"></div>
<div class="t " style="left:1639.50px;top:357.32px;font-size:28.79px;font-weight:normal;color:#343a40;transform:scaleX(0.7593);-webkit-text-stroke:0.79px #343a40;">Matches over time</div>
<svg style="position:absolute;left:0;top:0;width:2400px;height:1374px;pointer-events:none" viewBox="0 0 2400 1374"><line x1="1669.5" y1="933.80" x2="2338.4" y2="933.80" stroke="#dcdee0" stroke-width="2"/><line x1="1669.5" y1="830.60" x2="2338.4" y2="830.60" stroke="#dcdee0" stroke-width="2"/><line x1="1669.5" y1="727.40" x2="2338.4" y2="727.40" stroke="#dcdee0" stroke-width="2"/><line x1="1669.5" y1="624.20" x2="2338.4" y2="624.20" stroke="#dcdee0" stroke-width="2"/><line x1="1669.5" y1="521.00" x2="2338.4" y2="521.00" stroke="#dcdee0" stroke-width="2"/><line x1="1669.5" y1="417.80" x2="2338.4" y2="417.80" stroke="#dcdee0" stroke-width="2"/><line x1="1669.5" y1="1037.00" x2="2338.4" y2="1037.00" stroke="#ffffff" stroke-width="3"/><polyline points="1707.30,879.97 1731.02,874.81 1754.75,837.66 1778.47,768.51 1802.20,827.34 1825.92,891.32 1849.64,727.54 1873.37,721.35 1897.09,780.90 1920.82,840.75 1944.54,650.04 1968.26,682.96 1991.99,733.42 2015.71,780.90 2039.44,652.10 2063.16,639.31 2086.88,695.24 2110.61,710.93 2134.33,549.83 2158.06,559.12 2181.78,818.05 2205.50,733.42 2229.23,547.04 2252.95,437.45 2276.68,660.15 2300.40,633.42" fill="none" stroke="#0d0b2e" stroke-width="4" stroke-linejoin="round"/><circle cx="1707.30" cy="879.97" r="4.3" fill="#ffffff" stroke="#5b6fc4" stroke-width="2.4"/><circle cx="1731.02" cy="874.81" r="4.3" fill="#ffffff" stroke="#5b6fc4" stroke-width="2.4"/><circle cx="1754.75" cy="837.66" r="4.3" fill="#ffffff" stroke="#5b6fc4" stroke-width="2.4"/><circle cx="1778.47" cy="768.51" r="4.3" fill="#ffffff" stroke="#5b6fc4" stroke-width="2.4"/><circle cx="1802.20" cy="827.34" r="4.3" fill="#ffffff" stroke="#5b6fc4" stroke-width="2.4"/><circle cx="1825.92" cy="891.32" r="4.3" fill="#ffffff" stroke="#5b6fc4" stroke-width="2.4"/><circle cx="1849.64" cy="727.54" r="4.3" fill="#ffffff" stroke="#5b6fc4" stroke-width="2.4"/><circle cx="1873.37" cy="721.35" r="4.3" fill="#ffffff" stroke="#5b6fc4" stroke-width="2.4"/><circle cx="1897.09" cy="780.90" r="4.3" fill="#ffffff" stroke="#5b6fc4" stroke-width="2.4"/><circle cx="1920.82" cy="840.75" r="4.3" fill="#ffffff" stroke="#5b6fc4" stroke-width="2.4"/><circle cx="1944.54" cy="650.04" r="4.3" fill="#ffffff" stroke="#5b6fc4" stroke-width="2.4"/><circle cx="1968.26" cy="682.96" r="4.3" fill="#ffffff" stroke="#5b6fc4" stroke-width="2.4"/><circle cx="1991.99" cy="733.42" r="4.3" fill="#ffffff" stroke="#5b6fc4" stroke-width="2.4"/><circle cx="2015.71" cy="780.90" r="4.3" fill="#ffffff" stroke="#5b6fc4" stroke-width="2.4"/><circle cx="2039.44" cy="652.10" r="4.3" fill="#ffffff" stroke="#5b6fc4" stroke-width="2.4"/><circle cx="2063.16" cy="639.31" r="4.3" fill="#ffffff" stroke="#5b6fc4" stroke-width="2.4"/><circle cx="2086.88" cy="695.24" r="4.3" fill="#ffffff" stroke="#5b6fc4" stroke-width="2.4"/><circle cx="2110.61" cy="710.93" r="4.3" fill="#ffffff" stroke="#5b6fc4" stroke-width="2.4"/><circle cx="2134.33" cy="549.83" r="4.3" fill="#ffffff" stroke="#5b6fc4" stroke-width="2.4"/><circle cx="2158.06" cy="559.12" r="4.3" fill="#ffffff" stroke="#5b6fc4" stroke-width="2.4"/><circle cx="2181.78" cy="818.05" r="4.3" fill="#ffffff" stroke="#5b6fc4" stroke-width="2.4"/><circle cx="2205.50" cy="733.42" r="4.3" fill="#ffffff" stroke="#5b6fc4" stroke-width="2.4"/><circle cx="2229.23" cy="547.04" r="4.3" fill="#ffffff" stroke="#5b6fc4" stroke-width="2.4"/><circle cx="2252.95" cy="437.45" r="4.3" fill="#ffffff" stroke="#5b6fc4" stroke-width="2.4"/><circle cx="2276.68" cy="660.15" r="4.3" fill="#ffffff" stroke="#5b6fc4" stroke-width="2.4"/><circle cx="2300.40" cy="633.42" r="4.3" fill="#ffffff" stroke="#5b6fc4" stroke-width="2.4"/></svg>
<div class="t " style="left:1660.42px;top:1029.86px;font-size:16.68px;font-weight:normal;color:#2f3438;transform:scaleX(0.7173);-webkit-text-stroke:0.63px #2f3438;">0</div>
<div class="t " style="left:1646.22px;top:926.64px;font-size:16.71px;font-weight:normal;color:#2f3438;transform:scaleX(0.7479);-webkit-text-stroke:0.60px #2f3438;">100</div>
<div class="t " style="left:1646.22px;top:823.44px;font-size:16.71px;font-weight:normal;color:#2f3438;transform:scaleX(0.7479);-webkit-text-stroke:0.60px #2f3438;">200</div>
<div class="t " style="left:1646.22px;top:720.24px;font-size:16.71px;font-weight:normal;color:#2f3438;transform:scaleX(0.7479);-webkit-text-stroke:0.60px #2f3438;">300</div>
<div class="t " style="left:1646.22px;top:617.04px;font-size:16.71px;font-weight:normal;color:#2f3438;transform:scaleX(0.7479);-webkit-text-stroke:0.60px #2f3438;">400</div>
<div class="t " style="left:1646.22px;top:513.84px;font-size:16.71px;font-weight:normal;color:#2f3438;transform:scaleX(0.7479);-webkit-text-stroke:0.60px #2f3438;">500</div>
<div class="t " style="left:1646.22px;top:410.64px;font-size:16.71px;font-weight:normal;color:#2f3438;transform:scaleX(0.7479);-webkit-text-stroke:0.60px #2f3438;">600</div>
<div class="t " style="left:1693.32px;top:1039.54px;font-size:16.72px;font-weight:normal;color:#2f3438;transform:scaleX(0.7518);-webkit-text-stroke:0.60px #2f3438;">2000</div>
<div class="t " style="left:1811.94px;top:1039.54px;font-size:16.72px;font-weight:normal;color:#2f3438;transform:scaleX(0.7518);-webkit-text-stroke:0.60px #2f3438;">2005</div>
<div class="t " style="left:1930.56px;top:1039.54px;font-size:16.72px;font-weight:normal;color:#2f3438;transform:scaleX(0.7518);-webkit-text-stroke:0.60px #2f3438;">2010</div>
<div class="t " style="left:2049.18px;top:1039.54px;font-size:16.72px;font-weight:normal;color:#2f3438;transform:scaleX(0.7518);-webkit-text-stroke:0.60px #2f3438;">2015</div>
<div class="t " style="left:2167.80px;top:1039.54px;font-size:16.72px;font-weight:normal;color:#2f3438;transform:scaleX(0.7518);-webkit-text-stroke:0.60px #2f3438;">2020</div>
<div class="t " style="left:2286.42px;top:1039.54px;font-size:16.72px;font-weight:normal;color:#2f3438;transform:scaleX(0.7518);-webkit-text-stroke:0.60px #2f3438;">2025</div>
<div style="position:absolute;left:748.00px;top:1151.00px;width:1631.00px;height:249.00px;background:#f9fafb;border:1.5px solid #e6e7e9;border-radius:11px;box-sizing:border-box;box-shadow:0 2px 4px rgba(0,0,0,0.07)"></div>
<div style="position:absolute;left:792.50px;top:1173.30px;width:1543.50px;height:2.00px;background:#33393f"></div>
<div style="position:absolute;left:792.50px;top:1212.90px;width:1543.50px;height:2.00px;background:#33393f"></div>
<div style="position:absolute;left:792.50px;top:1214.90px;width:1543.50px;height:39.00px;background:#e2e3e5"></div>
<div style="position:absolute;left:792.50px;top:1292.90px;width:1543.50px;height:39.00px;background:#e2e3e5"></div>
<div style="position:absolute;left:792.50px;top:1370.90px;width:1543.50px;height:39.00px;background:#e2e3e5"></div>
<div class="t " style="left:798.33px;top:1183.07px;font-size:22.33px;font-weight:bold;color:#343a40;transform:scaleX(0.7115);-webkit-text-stroke:0.64px #343a40;">Date</div>
<div class="t " style="left:983.43px;top:1183.06px;font-size:22.34px;font-weight:bold;color:#343a40;transform:scaleX(0.7146);-webkit-text-stroke:0.63px #343a40;">Tournament</div>
<div class="t " style="left:1230.43px;top:1183.07px;font-size:22.32px;font-weight:bold;color:#343a40;transform:scaleX(0.7051);-webkit-text-stroke:0.64px #343a40;">Home Team</div>
<div class="t " style="left:1415.98px;top:1183.07px;font-size:22.33px;font-weight:bold;color:#343a40;transform:scaleX(0.7070);-webkit-text-stroke:0.64px #343a40;">Home Score</div>
<div class="t " style="left:1600.43px;top:1183.08px;font-size:22.31px;font-weight:bold;color:#343a40;transform:scaleX(0.6929);-webkit-text-stroke:0.65px #343a40;">Away Score</div>
<div class="t " style="left:1785.98px;top:1183.08px;font-size:22.30px;font-weight:bold;color:#343a40;transform:scaleX(0.6864);-webkit-text-stroke:0.66px #343a40;">Away Team</div>
<div class="t " style="left:1971.23px;top:1183.07px;font-size:22.33px;font-weight:bold;color:#343a40;transform:scaleX(0.7064);-webkit-text-stroke:0.64px #343a40;">Scorers</div>
<div class="t " style="left:798.02px;top:1225.10px;font-size:22.06px;font-weight:normal;color:#212529;transform:scaleX(0.7260);-webkit-text-stroke:0.62px #212529;">2025-11-01</div>
<div class="t " style="left:983.43px;top:1225.12px;font-size:22.02px;font-weight:normal;color:#212529;transform:scaleX(0.6916);-webkit-text-stroke:0.65px #212529;">FIFA Unites Women&#x27;s Series</div>
<div class="t " style="left:1230.42px;top:1225.14px;font-size:21.98px;font-weight:normal;color:#212529;transform:scaleX(0.6632);-webkit-text-stroke:0.68px #212529;">Libya</div>
<svg style="position:absolute;left:1272.50px;top:1229.50px;width:22.30px;height:15.80px;" viewBox="0 0 36 26" preserveAspectRatio="none"><polygon points="0.00,2.30 2.57,2.93 5.14,3.43 7.71,3.71 10.29,3.71 12.86,3.43 15.43,2.93 18.00,2.30 20.57,1.67 23.14,1.17 25.71,0.89 28.29,0.89 30.86,1.17 33.43,1.67 36.00,2.30 36.00,7.85 33.43,7.22 30.86,6.72 28.29,6.44 25.71,6.44 23.14,6.72 20.57,7.22 18.00,7.85 15.43,8.48 12.86,8.98 10.29,9.26 7.71,9.26 5.14,8.98 2.57,8.48 0.00,7.85" fill="#d8332b"/><polygon points="0.00,7.60 2.57,8.23 5.14,8.73 7.71,9.01 10.29,9.01 12.86,8.73 15.43,8.23 18.00,7.60 20.57,6.97 23.14,6.47 25.71,6.19 28.29,6.19 30.86,6.47 33.43,6.97 36.00,7.60 36.00,13.15 33.43,12.52 30.86,12.02 28.29,11.74 25.71,11.74 23.14,12.02 20.57,12.52 18.00,13.15 15.43,13.78 12.86,14.28 10.29,14.56 7.71,14.56 5.14,14.28 2.57,13.78 0.00,13.15" fill="#1a1a1a"/><polygon points="0.00,12.90 2.57,13.53 5.14,14.03 7.71,14.31 10.29,14.31 12.86,14.03 15.43,13.53 18.00,12.90 20.57,12.27 23.14,11.77 25.71,11.49 28.29,11.49 30.86,11.77 33.43,12.27 36.00,12.90 36.00,18.45 33.43,17.82 30.86,17.32 28.29,17.04 25.71,17.04 23.14,17.32 20.57,17.82 18.00,18.45 15.43,19.08 12.86,19.58 10.29,19.86 7.71,19.86 5.14,19.58 2.57,19.08 0.00,18.45" fill="#1a1a1a"/><polygon points="0.00,18.20 2.57,18.83 5.14,19.33 7.71,19.61 10.29,19.61 12.86,19.33 15.43,18.83 18.00,18.20 20.57,17.57 23.14,17.07 25.71,16.79 28.29,16.79 30.86,17.07 33.43,17.57 36.00,18.20 36.00,23.50 33.43,22.87 30.86,22.37 28.29,22.09 25.71,22.09 23.14,22.37 20.57,22.87 18.00,23.50 15.43,24.13 12.86,24.63 10.29,24.91 7.71,24.91 5.14,24.63 2.57,24.13 0.00,23.50" fill="#3c9a44"/><circle cx="17.5" cy="12.8" r="3.2" fill="#fff"/><circle cx="18.6" cy="12.6" r="2.6" fill="#1a1a1a"/><circle cx="21" cy="12.5" r="1" fill="#fff"/></svg>
<div class="t " style="left:1415.97px;top:1225.15px;font-size:21.97px;font-weight:normal;color:#212529;transform:scaleX(0.6579);-webkit-text-stroke:0.68px #212529;">0</div>
<div class="t " style="left:1600.72px;top:1225.15px;font-size:21.97px;font-weight:normal;color:#212529;transform:scaleX(0.6579);-webkit-text-stroke:0.68px #212529;">7</div>
<div class="t " style="left:1785.97px;top:1225.12px;font-size:22.04px;font-weight:normal;color:#212529;transform:scaleX(0.7045);-webkit-text-stroke:0.64px #212529;">Afghanistan</div>
<svg style="position:absolute;left:1875.20px;top:1229.50px;width:22.30px;height:15.80px;" viewBox="0 0 36 26" preserveAspectRatio="none"><defs><clipPath id="fc1"><polygon points="0.00,2.30 2.57,2.93 5.14,3.43 7.71,3.71 10.29,3.71 12.86,3.43 15.43,2.93 18.00,2.30 20.57,1.67 23.14,1.17 25.71,0.89 28.29,0.89 30.86,1.17 33.43,1.67 36.00,2.30 36.00,23.50 33.43,22.87 30.86,22.37 28.29,22.09 25.71,22.09 23.14,22.37 20.57,22.87 18.00,23.50 15.43,24.13 12.86,24.63 10.29,24.91 7.71,24.91 5.14,24.63 2.57,24.13 0.00,23.50"/></clipPath></defs><g clip-path="url(#fc1)"><rect x="0.00" y="-2" width="12.30" height="30" fill="#1a1a1a"/><rect x="12.00" y="-2" width="12.30" height="30" fill="#cf2f2a"/><rect x="24.00" y="-2" width="12.30" height="30" fill="#3b9a3a"/><circle cx="18" cy="12.5" r="4" fill="none" stroke="#f3d9b0" stroke-width="1.2"/></g></svg>
<div class="t " style="left:798.02px;top:1264.20px;font-size:22.06px;font-weight:normal;color:#212529;transform:scaleX(0.7260);-webkit-text-stroke:0.62px #212529;">2025-11-01</div>
<div class="t " style="left:983.43px;top:1264.22px;font-size:22.02px;font-weight:normal;color:#212529;transform:scaleX(0.6916);-webkit-text-stroke:0.65px #212529;">FIFA Unites Women&#x27;s Series</div>
<div class="t " style="left:1230.42px;top:1264.26px;font-size:21.95px;font-weight:normal;color:#212529;transform:scaleX(0.6431);-webkit-text-stroke:0.70px #212529;">Chad</div>
<svg style="position:absolute;left:1271.40px;top:1268.60px;width:22.30px;height:15.80px;" viewBox="0 0 36 26" preserveAspectRatio="none"><defs><clipPath id="fc2"><polygon points="0.00,2.30 2.57,2.93 5.14,3.43 7.71,3.71 10.29,3.71 12.86,3.43 15.43,2.93 18.00,2.30 20.57,1.67 23.14,1.17 25.71,0.89 28.29,0.89 30.86,1.17 33.43,1.67 36.00,2.30 36.00,23.50 33.43,22.87 30.86,22.37 28.29,22.09 25.71,22.09 23.14,22.37 20.57,22.87 18.00,23.50 15.43,24.13 12.86,24.63 10.29,24.91 7.71,24.91 5.14,24.63 2.57,24.13 0.00,23.50"/></clipPath></defs><g clip-path="url(#fc2)"><rect x="0.00" y="-2" width="12.30" height="30" fill="#1f2f88"/><rect x="12.00" y="-2" width="12.30" height="30" fill="#f4cd2a"/><rect x="24.00" y="-2" width="12.30" height="30" fill="#d5343b"/></g></svg>
<div class="t " style="left:1415.97px;top:1264.25px;font-size:21.97px;font-weight:normal;color:#212529;transform:scaleX(0.6579);-webkit-text-stroke:0.68px #212529;">1</div>
<div class="t " style="left:1600.72px;top:1264.25px;font-size:21.97px;font-weight:normal;color:#212529;transform:scaleX(0.6579);-webkit-text-stroke:0.68px #212529;">0</div>
<div class="t " style="left:1785.97px;top:1264.23px;font-size:22.00px;font-weight:normal;color:#212529;transform:scaleX(0.6809);-webkit-text-stroke:0.66px #212529;">Tunisia</div>
<svg style="position:absolute;left:1840.95px;top:1268.60px;width:22.30px;height:15.80px;" viewBox="0 0 36 26" preserveAspectRatio="none"><defs><clipPath id="fc3"><polygon points="0.00,2.30 2.57,2.93 5.14,3.43 7.71,3.71 10.29,3.71 12.86,3.43 15.43,2.93 18.00,2.30 20.57,1.67 23.14,1.17 25.71,0.89 28.29,0.89 30.86,1.17 33.43,1.67 36.00,2.30 36.00,23.50 33.43,22.87 30.86,22.37 28.29,22.09 25.71,22.09 23.14,22.37 20.57,22.87 18.00,23.50 15.43,24.13 12.86,24.63 10.29,24.91 7.71,24.91 5.14,24.63 2.57,24.13 0.00,23.50"/></clipPath></defs><g clip-path="url(#fc3)"><rect x="0.00" y="-2" width="36.30" height="30" fill="#d8332b"/><circle cx="18" cy="12.5" r="6" fill="#fff"/><circle cx="18.5" cy="12.5" r="4.2" fill="#d8332b"/><circle cx="19.6" cy="12.5" r="3.4" fill="#fff"/><circle cx="20.3" cy="12.5" r="1.4" fill="#d8332b"/></g></svg>
<div class="t " style="left:798.02px;top:1303.28px;font-size:22.10px;font-weight:normal;color:#212529;transform:scaleX(0.7585);-webkit-text-stroke:0.59px #212529;">2025-10-29</div>
<div class="t " style="left:983.43px;top:1303.32px;font-size:22.02px;font-weight:normal;color:#212529;transform:scaleX(0.6916);-webkit-text-stroke:0.65px #212529;">FIFA Unites Women&#x27;s Series</div>
<div class="t " style="left:1230.42px;top:1303.33px;font-size:22.00px;font-weight:normal;color:#212529;transform:scaleX(0.6809);-webkit-text-stroke:0.66px #212529;">Tunisia</div>
<svg style="position:absolute;left:1285.40px;top:1307.70px;width:22.30px;height:15.80px;" viewBox="0 0 36 26" preserveAspectRatio="none"><defs><clipPath id="fc4"><polygon points="0.00,2.30 2.57,2.93 5.14,3.43 7.71,3.71 10.29,3.71 12.86,3.43 15.43,2.93 18.00,2.30 20.57,1.67 23.14,1.17 25.71,0.89 28.29,0.89 30.86,1.17 33.43,1.67 36.00,2.30 36.00,23.50 33.43,22.87 30.86,22.37 28.29,22.09 25.71,22.09 23.14,22.37 20.57,22.87 18.00,23.50 15.43,24.13 12.86,24.63 10.29,24.91 7.71,24.91 5.14,24.63 2.57,24.13 0.00,23.50"/></clipPath></defs><g clip-path="url(#fc4)"><rect x="0.00" y="-2" width="36.30" height="30" fill="#d8332b"/><circle cx="18" cy="12.5" r="6" fill="#fff"/><circle cx="18.5" cy="12.5" r="4.2" fill="#d8332b"/><circle cx="19.6" cy="12.5" r="3.4" fill="#fff"/><circle cx="20.3" cy="12.5" r="1.4" fill="#d8332b"/></g></svg>
<div class="t " style="left:1415.97px;top:1303.35px;font-size:21.97px;font-weight:normal;color:#212529;transform:scaleX(0.6579);-webkit-text-stroke:0.68px #212529;">4</div>
<div class="t " style="left:1600.72px;top:1303.35px;font-size:21.97px;font-weight:normal;color:#212529;transform:scaleX(0.6579);-webkit-text-stroke:0.68px #212529;">0</div>
<div class="t " style="left:1785.97px;top:1303.32px;font-size:22.04px;font-weight:normal;color:#212529;transform:scaleX(0.7045);-webkit-text-stroke:0.64px #212529;">Afghanistan</div>
<svg style="position:absolute;left:1875.20px;top:1307.70px;width:22.30px;height:15.80px;" viewBox="0 0 36 26" preserveAspectRatio="none"><defs><clipPath id="fc5"><polygon points="0.00,2.30 2.57,2.93 5.14,3.43 7.71,3.71 10.29,3.71 12.86,3.43 15.43,2.93 18.00,2.30 20.57,1.67 23.14,1.17 25.71,0.89 28.29,0.89 30.86,1.17 33.43,1.67 36.00,2.30 36.00,23.50 33.43,22.87 30.86,22.37 28.29,22.09 25.71,22.09 23.14,22.37 20.57,22.87 18.00,23.50 15.43,24.13 12.86,24.63 10.29,24.91 7.71,24.91 5.14,24.63 2.57,24.13 0.00,23.50"/></clipPath></defs><g clip-path="url(#fc5)"><rect x="0.00" y="-2" width="12.30" height="30" fill="#1a1a1a"/><rect x="12.00" y="-2" width="12.30" height="30" fill="#cf2f2a"/><rect x="24.00" y="-2" width="12.30" height="30" fill="#3b9a3a"/><circle cx="18" cy="12.5" r="4" fill="none" stroke="#f3d9b0" stroke-width="1.2"/></g></svg>
<div class="t " style="left:798.02px;top:1342.38px;font-size:22.10px;font-weight:normal;color:#212529;transform:scaleX(0.7585);-webkit-text-stroke:0.59px #212529;">2025-10-29</div>
<div class="t " style="left:983.43px;top:1342.42px;font-size:22.02px;font-weight:normal;color:#212529;transform:scaleX(0.6916);-webkit-text-stroke:0.65px #212529;">FIFA Unites Women&#x27;s Series</div>
<div class="t " style="left:1230.42px;top:1342.46px;font-size:21.95px;font-weight:normal;color:#212529;transform:scaleX(0.6431);-webkit-text-stroke:0.70px #212529;">Chad</div>
<svg style="position:absolute;left:1271.40px;top:1346.80px;width:22.30px;height:15.80px;" viewBox="0 0 36 26" preserveAspectRatio="none"><defs><clipPath id="fc6"><polygon points="0.00,2.30 2.57,2.93 5.14,3.43 7.71,3.71 10.29,3.71 12.86,3.43 15.43,2.93 18.00,2.30 20.57,1.67 23.14,1.17 25.71,0.89 28.29,0.89 30.86,1.17 33.43,1.67 36.00,2.30 36.00,23.50 33.43,22.87 30.86,22.37 28.29,22.09 25.71,22.09 23.14,22.37 20.57,22.87 18.00,23.50 15.43,24.13 12.86,24.63 10.29,24.91 7.71,24.91 5.14,24.63 2.57,24.13 0.00,23.50"/></clipPath></defs><g clip-path="url(#fc6)"><rect x="0.00" y="-2" width="12.30" height="30" fill="#1f2f88"/><rect x="12.00" y="-2" width="12.30" height="30" fill="#f4cd2a"/><rect x="24.00" y="-2" width="12.30" height="30" fill="#d5343b"/></g></svg>
<div class="t " style="left:1415.97px;top:1342.44px;font-size:22.00px;font-weight:normal;color:#212529;transform:scaleX(0.6755);-webkit-text-stroke:0.67px #212529;">16</div>
<div class="t " style="left:1600.72px;top:1342.45px;font-size:21.97px;font-weight:normal;color:#212529;transform:scaleX(0.6579);-webkit-text-stroke:0.68px #212529;">0</div>
<div class="t " style="left:1785.97px;top:1342.44px;font-size:21.98px;font-weight:normal;color:#212529;transform:scaleX(0.6632);-webkit-text-stroke:0.68px #212529;">Libya</div>
<svg style="position:absolute;left:1828.05px;top:1346.80px;width:22.30px;height:15.80px;" viewBox="0 0 36 26" preserveAspectRatio="none"><polygon points="0.00,2.30 2.57,2.93 5.14,3.43 7.71,3.71 10.29,3.71 12.86,3.43 15.43,2.93 18.00,2.30 20.57,1.67 23.14,1.17 25.71,0.89 28.29,0.89 30.86,1.17 33.43,1.67 36.00,2.30 36.00,7.85 33.43,7.22 30.86,6.72 28.29,6.44 25.71,6.44 23.14,6.72 20.57,7.22 18.00,7.85 15.43,8.48 12.86,8.98 10.29,9.26 7.71,9.26 5.14,8.98 2.57,8.48 0.00,7.85" fill="#d8332b"/><polygon points="0.00,7.60 2.57,8.23 5.14,8.73 7.71,9.01 10.29,9.01 12.86,8.73 15.43,8.23 18.00,7.60 20.57,6.97 23.14,6.47 25.71,6.19 28.29,6.19 30.86,6.47 33.43,6.97 36.00,7.60 36.00,13.15 33.43,12.52 30.86,12.02 28.29,11.74 25.71,11.74 23.14,12.02 20.57,12.52 18.00,13.15 15.43,13.78 12.86,14.28 10.29,14.56 7.71,14.56 5.14,14.28 2.57,13.78 0.00,13.15" fill="#1a1a1a"/><polygon points="0.00,12.90 2.57,13.53 5.14,14.03 7.71,14.31 10.29,14.31 12.86,14.03 15.43,13.53 18.00,12.90 20.57,12.27 23.14,11.77 25.71,11.49 28.29,11.49 30.86,11.77 33.43,12.27 36.00,12.90 36.00,18.45 33.43,17.82 30.86,17.32 28.29,17.04 25.71,17.04 23.14,17.32 20.57,17.82 18.00,18.45 15.43,19.08 12.86,19.58 10.29,19.86 7.71,19.86 5.14,19.58 2.57,19.08 0.00,18.45" fill="#1a1a1a"/><polygon points="0.00,18.20 2.57,18.83 5.14,19.33 7.71,19.61 10.29,19.61 12.86,19.33 15.43,18.83 18.00,18.20 20.57,17.57 23.14,17.07 25.71,16.79 28.29,16.79 30.86,17.07 33.43,17.57 36.00,18.20 36.00,23.50 33.43,22.87 30.86,22.37 28.29,22.09 25.71,22.09 23.14,22.37 20.57,22.87 18.00,23.50 15.43,24.13 12.86,24.63 10.29,24.91 7.71,24.91 5.14,24.63 2.57,24.13 0.00,23.50" fill="#3c9a44"/><circle cx="17.5" cy="12.8" r="3.2" fill="#fff"/><circle cx="18.6" cy="12.6" r="2.6" fill="#1a1a1a"/><circle cx="21" cy="12.5" r="1" fill="#fff"/></svg>
</body></html>
